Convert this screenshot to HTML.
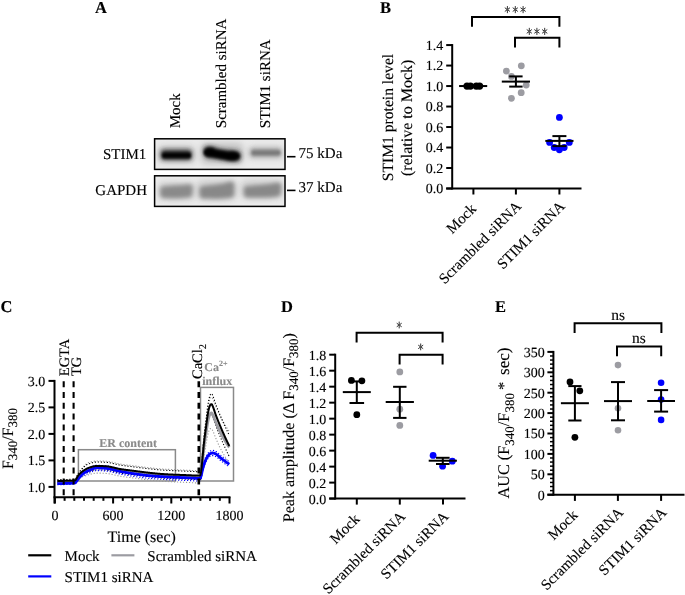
<!DOCTYPE html>
<html><head><meta charset="utf-8"><style>
html,body{margin:0;padding:0;background:#fff;overflow:hidden;}
svg{display:block;}
text{font-family:"Liberation Serif", serif; text-rendering:geometricPrecision; stroke:#000; stroke-width:0.12px;}
</style></head><body>
<svg style="will-change:transform" width="685" height="595" viewBox="0 0 685 595">
<rect width="685" height="595" fill="#fff"/>
<text x="95" y="12.5" font-size="16.5" text-anchor="start" font-weight="bold" fill="#000" font-family='"Liberation Serif", serif' >A</text>
<text x="180.2" y="128.2" font-size="15" text-anchor="start" fill="#000" font-family='"Liberation Serif", serif' transform="rotate(-90 180.2 128.2)" >Mock</text>
<text x="225.7" y="128.2" font-size="15" text-anchor="start" fill="#000" font-family='"Liberation Serif", serif' transform="rotate(-90 225.7 128.2)" >Scrambled siRNA</text>
<text x="269.7" y="128.2" font-size="15" text-anchor="start" fill="#000" font-family='"Liberation Serif", serif' transform="rotate(-90 269.7 128.2)" >STIM1 siRNA</text>
<text x="146.3" y="159.0" font-size="15" text-anchor="end" fill="#000" font-family='"Liberation Serif", serif' >STIM1</text>
<text x="147.0" y="195.2" font-size="15" text-anchor="end" fill="#000" font-family='"Liberation Serif", serif' >GAPDH</text>
<text x="298.6" y="158.2" font-size="15" text-anchor="start" fill="#000" font-family='"Liberation Serif", serif' >75 kDa</text>
<text x="298.6" y="192.2" font-size="15" text-anchor="start" fill="#000" font-family='"Liberation Serif", serif' >37 kDa</text>
<line x1="287" y1="156.7" x2="295.5" y2="156.7" stroke="#000" stroke-width="1.6" />
<line x1="287" y1="190.4" x2="295.5" y2="190.4" stroke="#000" stroke-width="1.6" />
<defs><filter id="bl1" x="-30%" y="-100%" width="160%" height="300%"><feGaussianBlur stdDeviation="2.2 2.2"/></filter><filter id="bl2" x="-30%" y="-100%" width="160%" height="300%"><feGaussianBlur stdDeviation="1.9 1.9"/></filter><filter id="bl4" x="-30%" y="-100%" width="160%" height="300%"><feGaussianBlur stdDeviation="1.3 1.6"/></filter><filter id="bl3" x="-30%" y="-100%" width="160%" height="300%"><feGaussianBlur stdDeviation="3 3"/></filter><clipPath id="c1"><rect x="154.7" y="138.9" width="130.1" height="30.2"/></clipPath><clipPath id="c2"><rect x="154.7" y="175.9" width="130.1" height="30.2"/></clipPath></defs>
<g clip-path="url(#c1)">
<rect x="154" y="138" width="132" height="32" fill="#ebebeb"/>
<g filter="url(#bl3)" opacity="0.4"><rect x="158" y="146" width="37" height="17" rx="5" fill="#888"/><rect x="201" y="143" width="42" height="21" rx="5" fill="#888"/><rect x="248" y="146" width="36" height="13" rx="4" fill="#aaa"/></g>
<g filter="url(#bl2)" opacity="0.9"><rect x="160.5" y="149.5" width="31.5" height="10.5" rx="4" fill="#333"/><path d="M203.5 150 C 203.5 145, 212 145.5, 218 148.5 C 225 150.5, 234 149.5, 239 151.5 C 242 153.5, 242 161, 237 161.5 C 230 162, 222 160, 214 158.5 C 207 157.5, 203.5 158.5, 203.5 150 Z" fill="#222"/><rect x="250" y="148.5" width="31" height="8.5" rx="3.5" fill="#999"/></g>
<g filter="url(#bl4)"><rect x="162" y="152.6" width="29" height="5.6" rx="2.5" fill="#000"/><ellipse cx="210" cy="152.4" rx="6.5" ry="4.6" fill="#000"/><ellipse cx="232" cy="156" rx="7.8" ry="4.6" fill="#000"/><path d="M209 148.8 L 228 151.8 L 230 160.2 L 210 156.8 Z" fill="#050505"/><rect x="251.5" y="150.4" width="29" height="4.6" rx="2" fill="#777"/></g>
</g>
<rect x="154.6" y="138.8" width="130.4" height="30.6" fill="none" stroke="#000" stroke-width="1.5"/>
<g clip-path="url(#c2)">
<rect x="154" y="175" width="132" height="32" fill="#ececec"/>
<g filter="url(#bl3)" opacity="0.35"><rect x="158" y="182" width="37" height="18" rx="5" fill="#999"/><rect x="197" y="180" width="40" height="20" rx="5" fill="#999"/><rect x="241" y="180" width="42" height="19" rx="5" fill="#999"/></g>
<g filter="url(#bl2)"><path d="M160.5 188 C 160.5 185.5, 175 186, 188 184.5 C 192.5 184, 193 186, 192.5 190 L 192 195.5 C 191.5 198, 180 198.5, 165 198 C 161 198, 160 196, 160.3 192 Z" fill="#8a8a8a"/><path d="M199.8 187.5 C 200.5 185.5, 218 185.5, 229 182 C 234 181, 234.5 183.5, 234.2 188 L 234 195.5 C 233.5 198.5, 220 199, 204 198.5 C 200 198.5, 199.5 196.5, 199.6 192 Z" fill="#888"/><path d="M244 187.5 C 244.5 185.5, 262 185.5, 276 183 C 281 182, 281.5 184.5, 281.2 188.5 L 280.7 194.5 C 280 197.5, 266 197.8, 248 197.5 C 244.2 197.5, 243.6 195.5, 243.8 191.5 Z" fill="#888"/></g>
</g>
<rect x="154.6" y="175.8" width="130.4" height="30.6" fill="none" stroke="#000" stroke-width="1.5"/>
<text x="380" y="12.5" font-size="16.5" text-anchor="start" font-weight="bold" fill="#000" font-family='"Liberation Serif", serif' >B</text>
<line x1="452.2" y1="44.06999999999999" x2="452.2" y2="189.5" stroke="#000" stroke-width="2.0" />
<line x1="446.2" y1="188.5" x2="581.5" y2="188.5" stroke="#000" stroke-width="2.0" />
<line x1="446.2" y1="188.5" x2="452.2" y2="188.5" stroke="#000" stroke-width="2.0" />
<text x="443.3" y="193.4" font-size="14" text-anchor="end" fill="#000" font-family='"Liberation Serif", serif' >0.0</text>
<line x1="446.2" y1="168.01" x2="452.2" y2="168.01" stroke="#000" stroke-width="2.0" />
<text x="443.3" y="172.91" font-size="14" text-anchor="end" fill="#000" font-family='"Liberation Serif", serif' >0.2</text>
<line x1="446.2" y1="147.52" x2="452.2" y2="147.52" stroke="#000" stroke-width="2.0" />
<text x="443.3" y="152.42" font-size="14" text-anchor="end" fill="#000" font-family='"Liberation Serif", serif' >0.4</text>
<line x1="446.2" y1="127.03" x2="452.2" y2="127.03" stroke="#000" stroke-width="2.0" />
<text x="443.3" y="131.93" font-size="14" text-anchor="end" fill="#000" font-family='"Liberation Serif", serif' >0.6</text>
<line x1="446.2" y1="106.54" x2="452.2" y2="106.54" stroke="#000" stroke-width="2.0" />
<text x="443.3" y="111.44" font-size="14" text-anchor="end" fill="#000" font-family='"Liberation Serif", serif' >0.8</text>
<line x1="446.2" y1="86.05" x2="452.2" y2="86.05" stroke="#000" stroke-width="2.0" />
<text x="443.3" y="90.95" font-size="14" text-anchor="end" fill="#000" font-family='"Liberation Serif", serif' >1.0</text>
<line x1="446.2" y1="65.56" x2="452.2" y2="65.56" stroke="#000" stroke-width="2.0" />
<text x="443.3" y="70.46" font-size="14" text-anchor="end" fill="#000" font-family='"Liberation Serif", serif' >1.2</text>
<line x1="446.2" y1="45.07" x2="452.2" y2="45.07" stroke="#000" stroke-width="2.0" />
<text x="443.3" y="49.97" font-size="14" text-anchor="end" fill="#000" font-family='"Liberation Serif", serif' >1.4</text>
<line x1="473.4" y1="188.5" x2="473.4" y2="194.5" stroke="#000" stroke-width="2.0" />
<line x1="515.9" y1="188.5" x2="515.9" y2="194.5" stroke="#000" stroke-width="2.0" />
<line x1="559.4" y1="188.5" x2="559.4" y2="194.5" stroke="#000" stroke-width="2.0" />
<text x="477.1" y="209.8" font-size="15" text-anchor="end" fill="#000" font-family='"Liberation Serif", serif' transform="rotate(-45 477.1 209.8)" >Mock</text>
<text x="522.2" y="207.2" font-size="15" text-anchor="end" fill="#000" font-family='"Liberation Serif", serif' transform="rotate(-45 522.2 207.2)" >Scrambled siRNA</text>
<text x="565.7" y="207.2" font-size="15" text-anchor="end" fill="#000" font-family='"Liberation Serif", serif' transform="rotate(-45 565.7 207.2)" >STIM1 siRNA</text>
<text x="393.3" y="117.5" font-size="15.6" text-anchor="middle" fill="#000" font-family='"Liberation Serif", serif' transform="rotate(-90 393.3 117.5)" >STIM1 protein level</text>
<text x="412.2" y="117.8" font-size="16" text-anchor="middle" fill="#000" font-family='"Liberation Serif", serif' transform="rotate(-90 412.2 117.8)" >(relative to Mock)</text>
<circle cx="467.0" cy="86.05" r="3.6" fill="#000"/>
<circle cx="470.4" cy="86.05" r="3.6" fill="#000"/>
<circle cx="476.3" cy="86.05" r="3.6" fill="#000"/>
<circle cx="479.6" cy="86.05" r="3.6" fill="#000"/>
<line x1="459.1" y1="86.05" x2="487.2" y2="86.05" stroke="#000" stroke-width="2.0" />
<circle cx="506.4" cy="71.1" r="3.4" fill="#9c9ca2"/>
<circle cx="521.3" cy="65.8" r="3.4" fill="#9c9ca2"/>
<circle cx="511.4" cy="76.4" r="3.4" fill="#9c9ca2"/>
<circle cx="526.2" cy="85.1" r="3.4" fill="#9c9ca2"/>
<circle cx="521.2" cy="92.7" r="3.4" fill="#9c9ca2"/>
<circle cx="511.4" cy="98.3" r="3.4" fill="#9c9ca2"/>
<line x1="501.79999999999995" y1="81.6" x2="530.0" y2="81.6" stroke="#000" stroke-width="2.0" />
<line x1="515.9" y1="76.4" x2="515.9" y2="86.6" stroke="#000" stroke-width="2.0" />
<line x1="509.2" y1="76.4" x2="522.6" y2="76.4" stroke="#000" stroke-width="2.0" />
<line x1="509.2" y1="86.6" x2="522.6" y2="86.6" stroke="#000" stroke-width="2.0" />
<circle cx="559.4" cy="117.4" r="3.4" fill="#0000ff"/>
<circle cx="549.6" cy="142.4" r="3.4" fill="#0000ff"/>
<circle cx="569.3" cy="142.4" r="3.4" fill="#0000ff"/>
<circle cx="554.2" cy="147.5" r="3.4" fill="#0000ff"/>
<circle cx="564.2" cy="147.5" r="3.4" fill="#0000ff"/>
<circle cx="559.4" cy="149.8" r="3.4" fill="#0000ff"/>
<line x1="545.3" y1="140.9" x2="573.5" y2="140.9" stroke="#000" stroke-width="2.0" />
<line x1="559.4" y1="136.1" x2="559.4" y2="146.1" stroke="#000" stroke-width="2.0" />
<line x1="552.4" y1="136.1" x2="566.4" y2="136.1" stroke="#000" stroke-width="2.0" />
<line x1="552.4" y1="146.1" x2="566.4" y2="146.1" stroke="#000" stroke-width="2.0" />
<path d="M472.0 26.8 V17.0 H559.4 V26.8" fill="none" stroke="#000" stroke-width="2.0" stroke-linejoin="miter"/>
<path d="M515.0 47.5 V37.7 H559.4 V47.5" fill="none" stroke="#000" stroke-width="2.0" stroke-linejoin="miter"/>
<path d="M507.4 6.45V12.75M505.13 7.96L509.67 11.24M505.13 11.24L509.67 7.96" stroke="#333" stroke-width="1.0" stroke-linecap="round" fill="none"/>
<circle cx="507.4" cy="9.6" r="1.1" fill="#555"/>
<path d="M515.3 6.45V12.75M513.03 7.96L517.57 11.24M513.03 11.24L517.57 7.96" stroke="#333" stroke-width="1.0" stroke-linecap="round" fill="none"/>
<circle cx="515.3" cy="9.6" r="1.1" fill="#555"/>
<path d="M523.1 6.45V12.75M520.83 7.96L525.37 11.24M520.83 11.24L525.37 7.96" stroke="#333" stroke-width="1.0" stroke-linecap="round" fill="none"/>
<circle cx="523.1" cy="9.6" r="1.1" fill="#555"/>
<path d="M529.3 28.25V34.55M527.03 29.76L531.57 33.04M527.03 33.04L531.57 29.76" stroke="#333" stroke-width="1.0" stroke-linecap="round" fill="none"/>
<circle cx="529.3" cy="31.4" r="1.1" fill="#555"/>
<path d="M536.9 28.25V34.55M534.63 29.76L539.17 33.04M534.63 33.04L539.17 29.76" stroke="#333" stroke-width="1.0" stroke-linecap="round" fill="none"/>
<circle cx="536.9" cy="31.4" r="1.1" fill="#555"/>
<path d="M544.7 28.25V34.55M542.43 29.76L546.97 33.04M542.43 33.04L546.97 29.76" stroke="#333" stroke-width="1.0" stroke-linecap="round" fill="none"/>
<circle cx="544.7" cy="31.4" r="1.1" fill="#555"/>
<text x="0.5" y="312.2" font-size="16.5" text-anchor="start" font-weight="bold" fill="#000" font-family='"Liberation Serif", serif' >C</text>
<line x1="54.5" y1="379.9" x2="54.5" y2="503.5" stroke="#000" stroke-width="2.0" />
<line x1="53.5" y1="497.2" x2="230.5" y2="497.2" stroke="#000" stroke-width="2.0" />
<line x1="48.5" y1="486.9" x2="54.5" y2="486.9" stroke="#000" stroke-width="2.0" />
<text x="45.3" y="491.8" font-size="14" text-anchor="end" fill="#000" font-family='"Liberation Serif", serif' >1.0</text>
<line x1="48.5" y1="460.4" x2="54.5" y2="460.4" stroke="#000" stroke-width="2.0" />
<text x="45.3" y="465.3" font-size="14" text-anchor="end" fill="#000" font-family='"Liberation Serif", serif' >1.5</text>
<line x1="48.5" y1="433.9" x2="54.5" y2="433.9" stroke="#000" stroke-width="2.0" />
<text x="45.3" y="438.8" font-size="14" text-anchor="end" fill="#000" font-family='"Liberation Serif", serif' >2.0</text>
<line x1="48.5" y1="407.4" x2="54.5" y2="407.4" stroke="#000" stroke-width="2.0" />
<text x="45.3" y="412.3" font-size="14" text-anchor="end" fill="#000" font-family='"Liberation Serif", serif' >2.5</text>
<line x1="48.5" y1="380.9" x2="54.5" y2="380.9" stroke="#000" stroke-width="2.0" />
<text x="45.3" y="385.8" font-size="14" text-anchor="end" fill="#000" font-family='"Liberation Serif", serif' >3.0</text>
<line x1="54.9" y1="497.2" x2="54.9" y2="503.5" stroke="#000" stroke-width="2.0" />
<line x1="64.6" y1="497.2" x2="64.6" y2="500.8" stroke="#000" stroke-width="2.0" />
<line x1="74.3" y1="497.2" x2="74.3" y2="500.8" stroke="#000" stroke-width="2.0" />
<line x1="84.0" y1="497.2" x2="84.0" y2="500.8" stroke="#000" stroke-width="2.0" />
<line x1="93.7" y1="497.2" x2="93.7" y2="500.8" stroke="#000" stroke-width="2.0" />
<line x1="103.4" y1="497.2" x2="103.4" y2="500.8" stroke="#000" stroke-width="2.0" />
<line x1="113.1" y1="497.2" x2="113.1" y2="503.5" stroke="#000" stroke-width="2.0" />
<line x1="122.8" y1="497.2" x2="122.8" y2="500.8" stroke="#000" stroke-width="2.0" />
<line x1="132.5" y1="497.2" x2="132.5" y2="500.8" stroke="#000" stroke-width="2.0" />
<line x1="142.2" y1="497.2" x2="142.2" y2="500.8" stroke="#000" stroke-width="2.0" />
<line x1="151.9" y1="497.2" x2="151.9" y2="500.8" stroke="#000" stroke-width="2.0" />
<line x1="161.6" y1="497.2" x2="161.6" y2="500.8" stroke="#000" stroke-width="2.0" />
<line x1="171.3" y1="497.2" x2="171.3" y2="503.5" stroke="#000" stroke-width="2.0" />
<line x1="181.0" y1="497.2" x2="181.0" y2="500.8" stroke="#000" stroke-width="2.0" />
<line x1="190.7" y1="497.2" x2="190.7" y2="500.8" stroke="#000" stroke-width="2.0" />
<line x1="200.4" y1="497.2" x2="200.4" y2="500.8" stroke="#000" stroke-width="2.0" />
<line x1="210.1" y1="497.2" x2="210.1" y2="500.8" stroke="#000" stroke-width="2.0" />
<line x1="219.8" y1="497.2" x2="219.8" y2="500.8" stroke="#000" stroke-width="2.0" />
<line x1="229.5" y1="497.2" x2="229.5" y2="503.5" stroke="#000" stroke-width="2.0" />
<text x="54.9" y="519.8" font-size="14" text-anchor="middle" fill="#000" font-family='"Liberation Serif", serif' >0</text>
<text x="113.1" y="519.8" font-size="14" text-anchor="middle" fill="#000" font-family='"Liberation Serif", serif' >600</text>
<text x="171.3" y="519.8" font-size="14" text-anchor="middle" fill="#000" font-family='"Liberation Serif", serif' >1200</text>
<text x="229.5" y="519.8" font-size="14" text-anchor="middle" fill="#000" font-family='"Liberation Serif", serif' >1800</text>
<text x="141.7" y="541.7" font-size="16" text-anchor="middle" fill="#000" font-family='"Liberation Serif", serif' >Time (sec)</text>
<text transform="translate(12.8 469) rotate(-90)" font-size="15.8" font-family='"Liberation Serif", serif'>F<tspan font-size="13" dy="4.5">340</tspan><tspan dy="-4.5">/F</tspan><tspan font-size="13" dy="4.5">380</tspan></text>
<text x="68.6" y="376.2" font-size="14.5" text-anchor="start" fill="#000" font-family='"Liberation Serif", serif' transform="rotate(-90 68.6 376.2)" >EGTA</text>
<text x="81.4" y="376.0" font-size="14.5" text-anchor="start" fill="#000" font-family='"Liberation Serif", serif' transform="rotate(-90 81.4 376.0)" >TG</text>
<text transform="translate(201.8 379) rotate(-90)" font-size="14.5" font-family='"Liberation Serif", serif'>CaCl<tspan font-size="10.5" dy="4">2</tspan></text>
<rect x="78.4" y="449.7" width="97" height="31.3" fill="none" stroke="#8a8a8a" stroke-width="1.5"/>
<rect x="200.5" y="387.4" width="33" height="93.6" fill="none" stroke="#8a8a8a" stroke-width="1.5"/>
<text x="128.2" y="447.0" font-size="12" text-anchor="middle" font-weight="bold" fill="#8a8a8a" style="stroke:#8a8a8a" font-family='"Liberation Serif", serif' >ER content</text>
<text x="204.3" y="370.5" font-size="12" font-weight="bold" fill="#8a8a8a" style="stroke:#8a8a8a" font-family='"Liberation Serif", serif'>Ca<tspan font-size="8" dy="-4.5">2+</tspan></text>
<text x="217.3" y="384.6" font-size="12" text-anchor="middle" font-weight="bold" fill="#8a8a8a" style="stroke:#8a8a8a" font-family='"Liberation Serif", serif' >influx</text>
<polyline points="57.32,480.01 57.62,480.00 57.91,479.99 58.20,479.98 58.49,479.97 58.78,479.96 59.07,479.95 59.36,479.94 59.65,479.93 59.94,479.92 60.23,479.91 60.53,479.90 60.82,479.89 61.11,479.88 61.40,479.88 61.69,479.87 61.98,479.86 62.27,479.85 62.56,479.84 62.85,479.83 63.14,479.82 63.44,479.81 63.73,479.80 64.02,479.79 64.31,479.78 64.60,479.77 64.89,479.77 65.18,479.76 65.47,479.75 65.76,479.74 66.06,479.73 66.35,479.72 66.64,479.72 66.93,479.71 67.22,479.70 67.51,479.70 67.80,479.69 68.09,479.69 68.38,479.68 68.67,479.68 68.97,479.67 69.26,479.67 69.55,479.66 69.84,479.66 70.13,479.65 70.42,479.65 70.71,479.64 71.00,479.64 71.29,479.63 71.58,479.62 71.88,479.61 72.17,479.60 72.46,479.59 72.75,479.58 73.04,479.57 73.33,479.56 73.62,479.55 73.91,479.53 74.20,479.52 74.49,479.50 74.78,479.48 75.08,479.40 75.37,479.18 75.66,478.79 75.95,478.33 76.24,477.81 76.53,477.24 76.82,476.65 77.11,476.04 77.40,475.43 77.69,474.84 77.99,474.28 78.28,473.78 78.57,473.33 78.86,472.89 79.15,472.47 79.44,472.04 79.73,471.62 80.02,471.20 80.31,470.78 80.61,470.37 80.90,469.97 81.19,469.57 81.48,469.18 81.77,468.80 82.06,468.42 82.35,468.05 82.64,467.70 82.93,467.35 83.22,467.01 83.52,466.69 83.81,466.37 84.10,466.06 84.39,465.76 84.68,465.46 84.97,465.16 85.26,464.87 85.55,464.58 85.84,464.29 86.13,464.02 86.42,463.74 86.72,463.48 87.01,463.26 87.30,463.12 87.59,462.99 87.88,462.86 88.17,462.75 88.46,462.64 88.75,462.55 89.04,462.46 89.34,462.38 89.63,462.29 89.92,462.20 90.21,462.12 90.50,462.04 90.79,461.96 91.08,461.87 91.37,461.80 91.66,461.72 91.95,461.64 92.25,461.57 92.54,461.50 92.83,461.44 93.12,461.37 93.41,461.31 93.70,461.26 93.99,461.20 94.28,461.15 94.57,461.11 94.86,461.07 95.16,461.03 95.45,461.00 95.74,460.98 96.03,460.96 96.32,460.94 96.61,460.93 96.90,460.93 97.19,460.93 97.48,460.93 97.77,460.93 98.06,460.94 98.36,460.94 98.65,460.94 98.94,460.95 99.23,460.95 99.52,460.96 99.81,460.97 100.10,460.97 100.39,460.98 100.68,460.99 100.97,461.00 101.27,461.01 101.56,461.02 101.85,461.03 102.14,461.04 102.43,461.05 102.72,461.06 103.01,461.07 103.30,461.09 103.59,461.10 103.88,461.11 104.18,461.13 104.47,461.14 104.76,461.15 105.05,461.17 105.34,461.18 105.63,461.19 105.92,461.21 106.21,461.23 106.50,461.25 106.80,461.28 107.09,461.31 107.38,461.34 107.67,461.38 107.96,461.42 108.25,461.46 108.54,461.50 108.83,461.55 109.12,461.60 109.41,461.65 109.70,461.70 110.00,461.76 110.29,461.82 110.58,461.87 110.87,461.94 111.16,462.00 111.45,462.06 111.74,462.13 112.03,462.19 112.32,462.26 112.62,462.33 112.91,462.40 113.20,462.47 113.49,462.54 113.78,462.61 114.07,462.68 114.36,462.75 114.65,462.82 114.94,462.89 115.23,462.96 115.53,463.03 115.82,463.10 116.11,463.17 116.40,463.24 116.69,463.31 116.98,463.38 117.27,463.45 117.56,463.51 117.85,463.58 118.14,463.64 118.44,463.70 118.73,463.76 119.02,463.82 119.31,463.87 119.60,463.93 119.89,463.98 120.18,464.03 120.47,464.08 120.76,464.12 121.05,464.17 121.34,464.21 121.64,464.26 121.93,464.30 122.22,464.34 122.51,464.38 122.80,464.43 123.09,464.47 123.38,464.51 123.67,464.55 123.96,464.59 124.25,464.63 124.55,464.67 124.84,464.70 125.13,464.74 125.42,464.78 125.71,464.82 126.00,464.86 126.29,464.89 126.58,464.93 126.87,464.97 127.16,465.00 127.46,465.04 127.75,465.08 128.04,465.11 128.33,465.15 128.62,465.18 128.91,465.22 129.20,465.25 129.49,465.29 129.78,465.32 130.07,465.36 130.37,465.39 130.66,465.43 130.95,465.47 131.24,465.50 131.53,465.54 131.82,465.57 132.11,465.61 132.40,465.64 132.69,465.68 132.99,465.71 133.28,465.75 133.57,465.78 133.86,465.82 134.15,465.86 134.44,465.89 134.73,465.93 135.02,465.96 135.31,466.00 135.60,466.04 135.90,466.08 136.19,466.11 136.48,466.15 136.77,466.19 137.06,466.23 137.35,466.26 137.64,466.30 137.93,466.34 138.22,466.38 138.51,466.42 138.81,466.45 139.10,466.49 139.39,466.53 139.68,466.57 139.97,466.61 140.26,466.64 140.55,466.68 140.84,466.72 141.13,466.76 141.42,466.80 141.72,466.83 142.01,466.87 142.30,466.91 142.59,466.95 142.88,466.98 143.17,467.02 143.46,467.06 143.75,467.09 144.04,467.13 144.33,467.17 144.62,467.20 144.92,467.24 145.21,467.27 145.50,467.31 145.79,467.35 146.08,467.38 146.37,467.42 146.66,467.45 146.95,467.48 147.24,467.52 147.53,467.55 147.83,467.59 148.12,467.62 148.41,467.65 148.70,467.68 148.99,467.72 149.28,467.75 149.57,467.78 149.86,467.81 150.15,467.84 150.44,467.87 150.74,467.90 151.03,467.93 151.32,467.96 151.61,467.99 151.90,468.02 152.19,468.05 152.48,468.08 152.77,468.11 153.06,468.14 153.35,468.17 153.65,468.20 153.94,468.23 154.23,468.26 154.52,468.29 154.81,468.32 155.10,468.35 155.39,468.38 155.68,468.41 155.97,468.44 156.27,468.46 156.56,468.49 156.85,468.52 157.14,468.55 157.43,468.57 157.72,468.60 158.01,468.63 158.30,468.66 158.59,468.68 158.88,468.71 159.18,468.73 159.47,468.76 159.76,468.78 160.05,468.81 160.34,468.83 160.63,468.86 160.92,468.88 161.21,468.91 161.50,468.93 161.79,468.95 162.09,468.97 162.38,469.00 162.67,469.02 162.96,469.04 163.25,469.06 163.54,469.08 163.83,469.10 164.12,469.12 164.41,469.14 164.70,469.16 165.00,469.18 165.29,469.19 165.58,469.21 165.87,469.23 166.16,469.25 166.45,469.27 166.74,469.28 167.03,469.30 167.32,469.32 167.61,469.33 167.91,469.35 168.20,469.37 168.49,469.38 168.78,469.40 169.07,469.41 169.36,469.43 169.65,469.44 169.94,469.46 170.23,469.47 170.52,469.49 170.81,469.50 171.11,469.52 171.40,469.53 171.69,469.55 171.98,469.56 172.27,469.58 172.56,469.59 172.85,469.60 173.14,469.62 173.43,469.63 173.72,469.65 174.02,469.66 174.31,469.67 174.60,469.69 174.89,469.70 175.18,469.71 175.47,469.73 175.76,469.74 176.05,469.75 176.34,469.76 176.63,469.78 176.93,469.79 177.22,469.80 177.51,469.82 177.80,469.83 178.09,469.84 178.38,469.85 178.67,469.87 178.96,469.88 179.25,469.89 179.55,469.90 179.84,469.92 180.13,469.93 180.42,469.94 180.71,469.95 181.00,469.97 181.29,469.98 181.58,469.99 181.87,470.00 182.16,470.02 182.46,470.03 182.75,470.04 183.04,470.05 183.33,470.07 183.62,470.08 183.91,470.09 184.20,470.10 184.49,470.12 184.78,470.13 185.07,470.14 185.37,470.16 185.66,470.17 185.95,470.18 186.24,470.20 186.53,470.21 186.82,470.22 187.11,470.24 187.40,470.25 187.69,470.27 187.98,470.28 188.28,470.30 188.57,470.32 188.86,470.33 189.15,470.35 189.44,470.37 189.73,470.38 190.02,470.40 190.31,470.42 190.60,470.43 190.89,470.45 191.19,470.47 191.48,470.48 191.77,470.50 192.06,470.52 192.35,470.53 192.64,470.55 192.93,470.57 193.22,470.58 193.51,470.59 193.80,470.61 194.09,470.62 194.39,470.64 194.68,470.65 194.97,470.66 195.26,470.67 195.55,470.68 195.84,470.69 196.13,470.70 196.42,470.71 196.71,470.71 197.01,470.72 197.30,470.73 197.59,470.73 197.88,470.73 198.17,470.73 198.46,470.73 198.75,470.72 199.04,470.69 199.33,470.64 199.62,470.57 199.92,470.50 200.21,470.11 200.50,469.12 200.79,467.64 201.08,465.73 201.37,463.46 201.66,460.88 201.95,458.07 202.24,455.08 202.53,451.99 202.83,448.85 203.12,445.72 203.41,442.67 203.70,439.77 203.99,437.08 204.28,434.65 204.57,432.41 204.86,430.21 205.15,428.04 205.44,425.91 205.74,423.79 206.03,421.70 206.32,419.61 206.61,417.49 206.90,415.34 207.19,413.20 207.48,411.14 207.77,409.22 208.06,407.48 208.35,405.87 208.65,404.34 208.94,402.93 209.23,401.69 209.52,400.66 209.81,399.71 210.10,398.85 210.39,398.17 210.68,397.71 210.97,397.34 211.26,397.09 211.56,397.06 211.85,397.22 212.14,397.63 212.43,398.20 212.72,398.84 213.01,399.45 213.30,400.06 213.59,400.73 213.88,401.46 214.17,402.23 214.47,403.01 214.76,403.81 215.05,404.58 215.34,405.33 215.63,406.04 215.92,406.74 216.21,407.43 216.50,408.12 216.79,408.80 217.08,409.48 217.38,410.16 217.67,410.82 217.96,411.48 218.25,412.13 218.54,412.77 218.83,413.40 219.12,414.01 219.41,414.62 219.70,415.21 219.99,415.80 220.28,416.38 220.58,416.94 220.87,417.50 221.16,418.06 221.45,418.60 221.74,419.14 222.03,419.67 222.32,420.19 222.61,420.71 222.90,421.23 223.20,421.74 223.49,422.24 223.78,422.74 224.07,423.24 224.36,423.73 224.65,424.22 224.94,424.71 225.23,425.19 225.52,425.67 225.81,426.15 226.11,426.62 226.40,427.09 226.69,427.55 226.98,428.01 227.27,428.46 227.56,428.91 227.85,429.36 228.14,429.80 228.43,430.23 228.72,430.66 229.02,431.08 229.31,431.50" fill="none" stroke="#999" stroke-width="1.1" stroke-linejoin="round" stroke-dasharray="1.2 1.8"/>
<polyline points="57.32,483.19 57.62,483.18 57.91,483.17 58.20,483.16 58.49,483.15 58.78,483.14 59.07,483.13 59.36,483.12 59.65,483.11 59.94,483.10 60.23,483.09 60.53,483.08 60.82,483.07 61.11,483.06 61.40,483.06 61.69,483.05 61.98,483.04 62.27,483.03 62.56,483.02 62.85,483.01 63.14,483.00 63.44,482.99 63.73,482.98 64.02,482.97 64.31,482.96 64.60,482.95 64.89,482.95 65.18,482.94 65.47,482.93 65.76,482.92 66.06,482.91 66.35,482.90 66.64,482.90 66.93,482.89 67.22,482.88 67.51,482.88 67.80,482.87 68.09,482.87 68.38,482.86 68.67,482.86 68.97,482.85 69.26,482.85 69.55,482.84 69.84,482.84 70.13,482.83 70.42,482.83 70.71,482.82 71.00,482.82 71.29,482.81 71.58,482.80 71.88,482.79 72.17,482.78 72.46,482.77 72.75,482.76 73.04,482.75 73.33,482.74 73.62,482.73 73.91,482.71 74.20,482.70 74.49,482.68 74.78,482.66 75.08,482.58 75.37,482.44 75.66,482.27 75.95,482.04 76.24,481.74 76.53,481.40 76.82,481.03 77.11,480.64 77.40,480.26 77.69,479.90 77.99,479.57 78.28,479.28 78.57,479.06 78.86,478.85 79.15,478.65 79.44,478.45 79.73,478.25 80.02,478.05 80.31,477.87 80.61,477.68 80.90,477.50 81.19,477.33 81.48,477.16 81.77,477.01 82.06,476.86 82.35,476.71 82.64,476.58 82.93,476.46 83.22,476.35 83.52,476.25 83.81,476.16 84.10,476.08 84.39,476.00 84.68,475.92 84.97,475.85 85.26,475.78 85.55,475.72 85.84,475.66 86.13,475.60 86.42,475.56 86.72,475.52 87.01,475.45 87.30,475.31 87.59,475.18 87.88,475.05 88.17,474.94 88.46,474.83 88.75,474.74 89.04,474.65 89.34,474.57 89.63,474.48 89.92,474.39 90.21,474.31 90.50,474.23 90.79,474.15 91.08,474.06 91.37,473.99 91.66,473.91 91.95,473.83 92.25,473.76 92.54,473.69 92.83,473.63 93.12,473.56 93.41,473.50 93.70,473.45 93.99,473.39 94.28,473.34 94.57,473.30 94.86,473.26 95.16,473.22 95.45,473.19 95.74,473.17 96.03,473.15 96.32,473.13 96.61,473.12 96.90,473.12 97.19,473.12 97.48,473.12 97.77,473.12 98.06,473.13 98.36,473.13 98.65,473.13 98.94,473.14 99.23,473.14 99.52,473.15 99.81,473.16 100.10,473.16 100.39,473.17 100.68,473.18 100.97,473.19 101.27,473.20 101.56,473.21 101.85,473.22 102.14,473.23 102.43,473.24 102.72,473.25 103.01,473.26 103.30,473.28 103.59,473.29 103.88,473.30 104.18,473.32 104.47,473.33 104.76,473.34 105.05,473.36 105.34,473.37 105.63,473.38 105.92,473.40 106.21,473.42 106.50,473.44 106.80,473.47 107.09,473.50 107.38,473.53 107.67,473.57 107.96,473.61 108.25,473.65 108.54,473.69 108.83,473.74 109.12,473.79 109.41,473.84 109.70,473.89 110.00,473.95 110.29,474.01 110.58,474.06 110.87,474.13 111.16,474.19 111.45,474.25 111.74,474.32 112.03,474.38 112.32,474.45 112.62,474.52 112.91,474.59 113.20,474.66 113.49,474.73 113.78,474.80 114.07,474.87 114.36,474.94 114.65,475.01 114.94,475.08 115.23,475.15 115.53,475.22 115.82,475.29 116.11,475.36 116.40,475.43 116.69,475.50 116.98,475.57 117.27,475.64 117.56,475.70 117.85,475.77 118.14,475.83 118.44,475.89 118.73,475.95 119.02,476.01 119.31,476.06 119.60,476.12 119.89,476.17 120.18,476.22 120.47,476.27 120.76,476.31 121.05,476.36 121.34,476.40 121.64,476.45 121.93,476.49 122.22,476.53 122.51,476.57 122.80,476.62 123.09,476.66 123.38,476.70 123.67,476.74 123.96,476.78 124.25,476.82 124.55,476.86 124.84,476.89 125.13,476.93 125.42,476.97 125.71,477.01 126.00,477.05 126.29,477.08 126.58,477.12 126.87,477.16 127.16,477.19 127.46,477.23 127.75,477.27 128.04,477.30 128.33,477.34 128.62,477.37 128.91,477.41 129.20,477.44 129.49,477.48 129.78,477.51 130.07,477.55 130.37,477.58 130.66,477.62 130.95,477.66 131.24,477.69 131.53,477.73 131.82,477.76 132.11,477.80 132.40,477.83 132.69,477.87 132.99,477.90 133.28,477.94 133.57,477.97 133.86,478.01 134.15,478.05 134.44,478.08 134.73,478.12 135.02,478.15 135.31,478.19 135.60,478.23 135.90,478.27 136.19,478.30 136.48,478.34 136.77,478.38 137.06,478.42 137.35,478.45 137.64,478.49 137.93,478.53 138.22,478.57 138.51,478.61 138.81,478.64 139.10,478.68 139.39,478.72 139.68,478.76 139.97,478.80 140.26,478.83 140.55,478.87 140.84,478.91 141.13,478.95 141.42,478.99 141.72,479.02 142.01,479.06 142.30,479.10 142.59,479.14 142.88,479.17 143.17,479.21 143.46,479.25 143.75,479.28 144.04,479.32 144.33,479.36 144.62,479.39 144.92,479.43 145.21,479.46 145.50,479.50 145.79,479.54 146.08,479.57 146.37,479.61 146.66,479.64 146.95,479.67 147.24,479.71 147.53,479.74 147.83,479.78 148.12,479.81 148.41,479.84 148.70,479.87 148.99,479.91 149.28,479.94 149.57,479.97 149.86,480.00 150.15,480.03 150.44,480.06 150.74,480.09 151.03,480.12 151.32,480.15 151.61,480.18 151.90,480.21 152.19,480.24 152.48,480.27 152.77,480.30 153.06,480.33 153.35,480.36 153.65,480.39 153.94,480.42 154.23,480.45 154.52,480.48 154.81,480.51 155.10,480.54 155.39,480.57 155.68,480.60 155.97,480.63 156.27,480.65 156.56,480.68 156.85,480.71 157.14,480.74 157.43,480.76 157.72,480.79 158.01,480.82 158.30,480.85 158.59,480.87 158.88,480.90 159.18,480.92 159.47,480.95 159.76,480.97 160.05,481.00 160.34,481.02 160.63,481.05 160.92,481.07 161.21,481.10 161.50,481.12 161.79,481.14 162.09,481.16 162.38,481.19 162.67,481.21 162.96,481.23 163.25,481.25 163.54,481.27 163.83,481.29 164.12,481.31 164.41,481.33 164.70,481.35 165.00,481.37 165.29,481.38 165.58,481.40 165.87,481.42 166.16,481.44 166.45,481.46 166.74,481.47 167.03,481.49 167.32,481.51 167.61,481.52 167.91,481.54 168.20,481.56 168.49,481.57 168.78,481.59 169.07,481.60 169.36,481.62 169.65,481.63 169.94,481.65 170.23,481.66 170.52,481.68 170.81,481.69 171.11,481.71 171.40,481.72 171.69,481.74 171.98,481.75 172.27,481.77 172.56,481.78 172.85,481.79 173.14,481.81 173.43,481.82 173.72,481.84 174.02,481.85 174.31,481.86 174.60,481.88 174.89,481.89 175.18,481.90 175.47,481.92 175.76,481.93 176.05,481.94 176.34,481.95 176.63,481.97 176.93,481.98 177.22,481.99 177.51,482.01 177.80,482.02 178.09,482.03 178.38,482.04 178.67,482.06 178.96,482.07 179.25,482.08 179.55,482.09 179.84,482.11 180.13,482.12 180.42,482.13 180.71,482.14 181.00,482.16 181.29,482.17 181.58,482.18 181.87,482.19 182.16,482.21 182.46,482.22 182.75,482.23 183.04,482.24 183.33,482.26 183.62,482.27 183.91,482.28 184.20,482.29 184.49,482.31 184.78,482.32 185.07,482.33 185.37,482.35 185.66,482.36 185.95,482.37 186.24,482.39 186.53,482.40 186.82,482.41 187.11,482.43 187.40,482.44 187.69,482.46 187.98,482.47 188.28,482.49 188.57,482.51 188.86,482.52 189.15,482.54 189.44,482.56 189.73,482.57 190.02,482.59 190.31,482.61 190.60,482.62 190.89,482.64 191.19,482.66 191.48,482.67 191.77,482.69 192.06,482.71 192.35,482.72 192.64,482.74 192.93,482.76 193.22,482.77 193.51,482.78 193.80,482.80 194.09,482.81 194.39,482.83 194.68,482.84 194.97,482.85 195.26,482.86 195.55,482.87 195.84,482.88 196.13,482.89 196.42,482.90 196.71,482.90 197.01,482.91 197.30,482.92 197.59,482.92 197.88,482.92 198.17,482.92 198.46,482.92 198.75,482.91 199.04,482.88 199.33,482.83 199.62,482.76 199.92,482.69 200.21,482.64 200.50,482.17 200.79,481.19 201.08,479.80 201.37,478.03 201.66,475.97 201.95,473.67 202.24,471.20 202.53,468.61 202.83,465.98 203.12,463.37 203.41,460.83 203.70,458.44 203.99,456.26 204.28,454.35 204.57,452.61 204.86,450.92 205.15,449.27 205.44,447.65 205.74,446.04 206.03,444.46 206.32,442.89 206.61,441.28 206.90,439.64 207.19,438.01 207.48,436.46 207.77,435.05 208.06,433.82 208.35,432.73 208.65,431.70 208.94,430.80 209.23,430.08 209.52,429.56 209.81,429.12 210.10,428.78 210.39,428.60 210.68,428.66 210.97,428.80 211.26,428.89 211.56,428.86 211.85,429.02 212.14,429.43 212.43,430.00 212.72,430.64 213.01,431.25 213.30,431.86 213.59,432.53 213.88,433.26 214.17,434.03 214.47,434.81 214.76,435.61 215.05,436.38 215.34,437.13 215.63,437.84 215.92,438.54 216.21,439.23 216.50,439.92 216.79,440.60 217.08,441.28 217.38,441.96 217.67,442.62 217.96,443.28 218.25,443.93 218.54,444.57 218.83,445.20 219.12,445.81 219.41,446.42 219.70,447.01 219.99,447.60 220.28,448.18 220.58,448.74 220.87,449.30 221.16,449.86 221.45,450.40 221.74,450.94 222.03,451.47 222.32,451.99 222.61,452.51 222.90,453.03 223.20,453.54 223.49,454.04 223.78,454.54 224.07,455.04 224.36,455.53 224.65,456.02 224.94,456.51 225.23,456.99 225.52,457.47 225.81,457.95 226.11,458.42 226.40,458.89 226.69,459.35 226.98,459.81 227.27,460.26 227.56,460.71 227.85,461.16 228.14,461.60 228.43,462.03 228.72,462.46 229.02,462.88 229.31,463.30" fill="none" stroke="#999" stroke-width="1.1" stroke-linejoin="round" stroke-dasharray="1.2 1.8"/>
<polyline points="57.32,479.75 57.62,479.74 57.91,479.73 58.20,479.72 58.49,479.71 58.78,479.70 59.07,479.69 59.36,479.68 59.65,479.67 59.94,479.66 60.23,479.65 60.53,479.64 60.82,479.63 61.11,479.62 61.40,479.61 61.69,479.60 61.98,479.59 62.27,479.58 62.56,479.57 62.85,479.56 63.14,479.56 63.44,479.55 63.73,479.54 64.02,479.53 64.31,479.52 64.60,479.51 64.89,479.50 65.18,479.49 65.47,479.48 65.76,479.47 66.06,479.47 66.35,479.46 66.64,479.45 66.93,479.45 67.22,479.44 67.51,479.43 67.80,479.43 68.09,479.42 68.38,479.42 68.67,479.41 68.97,479.41 69.26,479.40 69.55,479.40 69.84,479.39 70.13,479.39 70.42,479.38 70.71,479.38 71.00,479.37 71.29,479.36 71.58,479.36 71.88,479.35 72.17,479.34 72.46,479.33 72.75,479.32 73.04,479.31 73.33,479.29 73.62,479.28 73.91,479.27 74.20,479.25 74.49,479.23 74.78,479.21 75.08,479.13 75.37,478.90 75.66,478.52 75.95,478.05 76.24,477.52 76.53,476.94 76.82,476.33 77.11,475.71 77.40,475.09 77.69,474.50 77.99,473.95 78.28,473.47 78.57,473.06 78.86,472.67 79.15,472.29 79.44,471.92 79.73,471.55 80.02,471.20 80.31,470.84 80.61,470.50 80.90,470.16 81.19,469.83 81.48,469.51 81.77,469.20 82.06,468.89 82.35,468.59 82.64,468.30 82.93,468.01 83.22,467.73 83.52,467.46 83.81,467.20 84.10,466.94 84.39,466.69 84.68,466.44 84.97,466.19 85.26,465.95 85.55,465.71 85.84,465.47 86.13,465.24 86.42,465.02 86.72,464.80 87.01,464.61 87.30,464.47 87.59,464.34 87.88,464.21 88.17,464.09 88.46,463.98 88.75,463.88 89.04,463.78 89.34,463.68 89.63,463.59 89.92,463.49 90.21,463.39 90.50,463.30 90.79,463.20 91.08,463.11 91.37,463.02 91.66,462.93 91.95,462.84 92.25,462.76 92.54,462.68 92.83,462.60 93.12,462.52 93.41,462.45 93.70,462.38 93.99,462.32 94.28,462.26 94.57,462.21 94.86,462.16 95.16,462.12 95.45,462.08 95.74,462.05 96.03,462.02 96.32,462.00 96.61,461.99 96.90,461.99 97.19,461.99 97.48,461.99 97.77,461.99 98.06,462.00 98.36,462.00 98.65,462.00 98.94,462.01 99.23,462.01 99.52,462.02 99.81,462.03 100.10,462.03 100.39,462.04 100.68,462.05 100.97,462.06 101.27,462.07 101.56,462.08 101.85,462.09 102.14,462.10 102.43,462.11 102.72,462.12 103.01,462.13 103.30,462.15 103.59,462.16 103.88,462.17 104.18,462.19 104.47,462.20 104.76,462.21 105.05,462.23 105.34,462.24 105.63,462.25 105.92,462.27 106.21,462.29 106.50,462.31 106.80,462.34 107.09,462.37 107.38,462.40 107.67,462.44 107.96,462.48 108.25,462.52 108.54,462.56 108.83,462.61 109.12,462.66 109.41,462.71 109.70,462.76 110.00,462.82 110.29,462.88 110.58,462.93 110.87,463.00 111.16,463.06 111.45,463.12 111.74,463.19 112.03,463.25 112.32,463.32 112.62,463.39 112.91,463.46 113.20,463.53 113.49,463.60 113.78,463.67 114.07,463.74 114.36,463.81 114.65,463.88 114.94,463.95 115.23,464.02 115.53,464.09 115.82,464.16 116.11,464.23 116.40,464.30 116.69,464.37 116.98,464.44 117.27,464.51 117.56,464.57 117.85,464.64 118.14,464.70 118.44,464.76 118.73,464.82 119.02,464.88 119.31,464.93 119.60,464.99 119.89,465.04 120.18,465.09 120.47,465.14 120.76,465.18 121.05,465.23 121.34,465.27 121.64,465.32 121.93,465.36 122.22,465.40 122.51,465.44 122.80,465.49 123.09,465.53 123.38,465.57 123.67,465.61 123.96,465.65 124.25,465.69 124.55,465.73 124.84,465.76 125.13,465.80 125.42,465.84 125.71,465.88 126.00,465.92 126.29,465.95 126.58,465.99 126.87,466.03 127.16,466.06 127.46,466.10 127.75,466.14 128.04,466.17 128.33,466.21 128.62,466.24 128.91,466.28 129.20,466.31 129.49,466.35 129.78,466.38 130.07,466.42 130.37,466.45 130.66,466.49 130.95,466.53 131.24,466.56 131.53,466.60 131.82,466.63 132.11,466.67 132.40,466.70 132.69,466.74 132.99,466.77 133.28,466.81 133.57,466.84 133.86,466.88 134.15,466.92 134.44,466.95 134.73,466.99 135.02,467.02 135.31,467.06 135.60,467.10 135.90,467.14 136.19,467.17 136.48,467.21 136.77,467.25 137.06,467.29 137.35,467.32 137.64,467.36 137.93,467.40 138.22,467.44 138.51,467.48 138.81,467.51 139.10,467.55 139.39,467.59 139.68,467.63 139.97,467.67 140.26,467.70 140.55,467.74 140.84,467.78 141.13,467.82 141.42,467.86 141.72,467.89 142.01,467.93 142.30,467.97 142.59,468.01 142.88,468.04 143.17,468.08 143.46,468.12 143.75,468.15 144.04,468.19 144.33,468.23 144.62,468.26 144.92,468.30 145.21,468.33 145.50,468.37 145.79,468.41 146.08,468.44 146.37,468.48 146.66,468.51 146.95,468.54 147.24,468.58 147.53,468.61 147.83,468.65 148.12,468.68 148.41,468.71 148.70,468.74 148.99,468.78 149.28,468.81 149.57,468.84 149.86,468.87 150.15,468.90 150.44,468.93 150.74,468.96 151.03,468.99 151.32,469.02 151.61,469.05 151.90,469.08 152.19,469.11 152.48,469.14 152.77,469.18 153.06,469.21 153.35,469.24 153.65,469.27 153.94,469.30 154.23,469.33 154.52,469.36 154.81,469.38 155.10,469.41 155.39,469.44 155.68,469.47 155.97,469.50 156.27,469.53 156.56,469.56 156.85,469.59 157.14,469.61 157.43,469.64 157.72,469.67 158.01,469.70 158.30,469.72 158.59,469.75 158.88,469.78 159.18,469.80 159.47,469.83 159.76,469.85 160.05,469.88 160.34,469.90 160.63,469.93 160.92,469.95 161.21,469.97 161.50,470.00 161.79,470.02 162.09,470.04 162.38,470.06 162.67,470.08 162.96,470.10 163.25,470.12 163.54,470.14 163.83,470.16 164.12,470.18 164.41,470.20 164.70,470.22 165.00,470.23 165.29,470.25 165.58,470.27 165.87,470.28 166.16,470.30 166.45,470.32 166.74,470.33 167.03,470.35 167.32,470.36 167.61,470.38 167.91,470.39 168.20,470.41 168.49,470.42 168.78,470.44 169.07,470.45 169.36,470.47 169.65,470.48 169.94,470.50 170.23,470.51 170.52,470.52 170.81,470.54 171.11,470.55 171.40,470.56 171.69,470.58 171.98,470.59 172.27,470.60 172.56,470.61 172.85,470.63 173.14,470.64 173.43,470.65 173.72,470.66 174.02,470.68 174.31,470.69 174.60,470.70 174.89,470.71 175.18,470.72 175.47,470.73 175.76,470.75 176.05,470.76 176.34,470.77 176.63,470.78 176.93,470.79 177.22,470.80 177.51,470.81 177.80,470.82 178.09,470.84 178.38,470.85 178.67,470.86 178.96,470.87 179.25,470.88 179.55,470.89 179.84,470.90 180.13,470.91 180.42,470.92 180.71,470.94 181.00,470.95 181.29,470.96 181.58,470.97 181.87,470.98 182.16,470.99 182.46,471.00 182.75,471.01 183.04,471.02 183.33,471.04 183.62,471.05 183.91,471.06 184.20,471.07 184.49,471.08 184.78,471.09 185.07,471.10 185.37,471.12 185.66,471.13 185.95,471.14 186.24,471.15 186.53,471.16 186.82,471.18 187.11,471.19 187.40,471.20 187.69,471.22 187.98,471.23 188.28,471.24 188.57,471.26 188.86,471.27 189.15,471.29 189.44,471.30 189.73,471.32 190.02,471.33 190.31,471.35 190.60,471.36 190.89,471.38 191.19,471.40 191.48,471.41 191.77,471.43 192.06,471.44 192.35,471.45 192.64,471.47 192.93,471.48 193.22,471.50 193.51,471.51 193.80,471.52 194.09,471.53 194.39,471.55 194.68,471.56 194.97,471.57 195.26,471.58 195.55,471.59 195.84,471.60 196.13,471.60 196.42,471.61 196.71,471.62 197.01,471.62 197.30,471.63 197.59,471.63 197.88,471.63 198.17,471.64 198.46,471.64 198.75,471.63 199.04,471.62 199.33,471.60 199.62,471.57 199.92,471.54 200.21,471.25 200.50,470.32 200.79,468.84 201.08,466.89 201.37,464.53 201.66,461.83 201.95,458.86 202.24,455.69 202.53,452.39 202.83,449.03 203.12,445.68 203.41,442.41 203.70,439.28 203.99,436.37 204.28,433.75 204.57,431.31 204.86,428.89 205.15,426.50 205.44,424.13 205.74,421.78 206.03,419.46 206.32,417.17 206.61,414.84 206.90,412.47 207.19,410.12 207.48,407.87 207.77,405.79 208.06,403.94 208.35,402.27 208.65,400.69 208.94,399.26 209.23,398.01 209.52,396.98 209.81,396.02 210.10,395.17 210.39,394.51 210.68,394.13 210.97,393.84 211.26,393.65 211.56,393.62 211.85,393.79 212.14,394.25 212.43,394.88 212.72,395.58 213.01,396.27 213.30,396.96 213.59,397.75 213.88,398.60 214.17,399.50 214.47,400.43 214.76,401.36 215.05,402.27 215.34,403.14 215.63,403.95 215.92,404.74 216.21,405.51 216.50,406.28 216.79,407.03 217.08,407.78 217.38,408.51 217.67,409.24 217.96,409.97 218.25,410.68 218.54,411.40 218.83,412.11 219.12,412.82 219.41,413.52 219.70,414.23 219.99,414.93 220.28,415.63 220.58,416.33 220.87,417.02 221.16,417.70 221.45,418.38 221.74,419.06 222.03,419.74 222.32,420.41 222.61,421.07 222.90,421.73 223.20,422.38 223.49,423.03 223.78,423.68 224.07,424.33 224.36,424.97 224.65,425.60 224.94,426.24 225.23,426.87 225.52,427.50 225.81,428.13 226.11,428.75 226.40,429.37 226.69,429.99 226.98,430.60 227.27,431.21 227.56,431.82 227.85,432.42 228.14,433.02 228.43,433.61 228.72,434.20 229.02,434.79 229.31,435.37" fill="none" stroke="#000" stroke-width="1.1" stroke-linejoin="round" stroke-dasharray="1.2 1.8"/>
<polyline points="57.32,482.39 57.62,482.39 57.91,482.38 58.20,482.37 58.49,482.36 58.78,482.35 59.07,482.34 59.36,482.33 59.65,482.32 59.94,482.31 60.23,482.30 60.53,482.29 60.82,482.28 61.11,482.27 61.40,482.26 61.69,482.25 61.98,482.24 62.27,482.23 62.56,482.22 62.85,482.21 63.14,482.21 63.44,482.20 63.73,482.19 64.02,482.18 64.31,482.17 64.60,482.16 64.89,482.15 65.18,482.14 65.47,482.13 65.76,482.12 66.06,482.12 66.35,482.11 66.64,482.10 66.93,482.10 67.22,482.09 67.51,482.08 67.80,482.08 68.09,482.07 68.38,482.07 68.67,482.06 68.97,482.06 69.26,482.05 69.55,482.05 69.84,482.04 70.13,482.04 70.42,482.03 70.71,482.03 71.00,482.02 71.29,482.01 71.58,482.01 71.88,482.00 72.17,481.99 72.46,481.98 72.75,481.97 73.04,481.96 73.33,481.94 73.62,481.93 73.91,481.92 74.20,481.90 74.49,481.88 74.78,481.86 75.08,481.78 75.37,481.59 75.66,481.35 75.95,481.01 76.24,480.61 76.53,480.17 76.82,479.69 77.11,479.20 77.40,478.71 77.69,478.26 77.99,477.84 78.28,477.49 78.57,477.21 78.86,476.95 79.15,476.71 79.44,476.47 79.73,476.24 80.02,476.01 80.31,475.79 80.61,475.58 80.90,475.38 81.19,475.18 81.48,474.99 81.77,474.81 82.06,474.63 82.35,474.46 82.64,474.30 82.93,474.15 83.22,474.01 83.52,473.87 83.81,473.74 84.10,473.61 84.39,473.49 84.68,473.37 84.97,473.26 85.26,473.15 85.55,473.04 85.84,472.94 86.13,472.84 86.42,472.75 86.72,472.66 87.01,472.56 87.30,472.42 87.59,472.29 87.88,472.16 88.17,472.04 88.46,471.93 88.75,471.83 89.04,471.73 89.34,471.63 89.63,471.54 89.92,471.44 90.21,471.34 90.50,471.25 90.79,471.15 91.08,471.06 91.37,470.97 91.66,470.88 91.95,470.79 92.25,470.71 92.54,470.63 92.83,470.55 93.12,470.47 93.41,470.40 93.70,470.33 93.99,470.27 94.28,470.21 94.57,470.16 94.86,470.11 95.16,470.07 95.45,470.03 95.74,470.00 96.03,469.97 96.32,469.95 96.61,469.94 96.90,469.94 97.19,469.94 97.48,469.94 97.77,469.94 98.06,469.95 98.36,469.95 98.65,469.95 98.94,469.96 99.23,469.96 99.52,469.97 99.81,469.98 100.10,469.98 100.39,469.99 100.68,470.00 100.97,470.01 101.27,470.02 101.56,470.03 101.85,470.04 102.14,470.05 102.43,470.06 102.72,470.07 103.01,470.08 103.30,470.10 103.59,470.11 103.88,470.12 104.18,470.14 104.47,470.15 104.76,470.16 105.05,470.18 105.34,470.19 105.63,470.20 105.92,470.22 106.21,470.24 106.50,470.26 106.80,470.29 107.09,470.32 107.38,470.35 107.67,470.39 107.96,470.43 108.25,470.47 108.54,470.51 108.83,470.56 109.12,470.61 109.41,470.66 109.70,470.71 110.00,470.77 110.29,470.83 110.58,470.88 110.87,470.95 111.16,471.01 111.45,471.07 111.74,471.14 112.03,471.20 112.32,471.27 112.62,471.34 112.91,471.41 113.20,471.48 113.49,471.55 113.78,471.62 114.07,471.69 114.36,471.76 114.65,471.83 114.94,471.90 115.23,471.97 115.53,472.04 115.82,472.11 116.11,472.18 116.40,472.25 116.69,472.32 116.98,472.39 117.27,472.46 117.56,472.52 117.85,472.59 118.14,472.65 118.44,472.71 118.73,472.77 119.02,472.83 119.31,472.88 119.60,472.94 119.89,472.99 120.18,473.04 120.47,473.09 120.76,473.13 121.05,473.18 121.34,473.22 121.64,473.27 121.93,473.31 122.22,473.35 122.51,473.39 122.80,473.44 123.09,473.48 123.38,473.52 123.67,473.56 123.96,473.60 124.25,473.64 124.55,473.68 124.84,473.71 125.13,473.75 125.42,473.79 125.71,473.83 126.00,473.87 126.29,473.90 126.58,473.94 126.87,473.98 127.16,474.01 127.46,474.05 127.75,474.09 128.04,474.12 128.33,474.16 128.62,474.19 128.91,474.23 129.20,474.26 129.49,474.30 129.78,474.33 130.07,474.37 130.37,474.40 130.66,474.44 130.95,474.48 131.24,474.51 131.53,474.55 131.82,474.58 132.11,474.62 132.40,474.65 132.69,474.69 132.99,474.72 133.28,474.76 133.57,474.79 133.86,474.83 134.15,474.87 134.44,474.90 134.73,474.94 135.02,474.97 135.31,475.01 135.60,475.05 135.90,475.09 136.19,475.12 136.48,475.16 136.77,475.20 137.06,475.24 137.35,475.27 137.64,475.31 137.93,475.35 138.22,475.39 138.51,475.43 138.81,475.46 139.10,475.50 139.39,475.54 139.68,475.58 139.97,475.62 140.26,475.65 140.55,475.69 140.84,475.73 141.13,475.77 141.42,475.81 141.72,475.84 142.01,475.88 142.30,475.92 142.59,475.96 142.88,475.99 143.17,476.03 143.46,476.07 143.75,476.10 144.04,476.14 144.33,476.18 144.62,476.21 144.92,476.25 145.21,476.28 145.50,476.32 145.79,476.36 146.08,476.39 146.37,476.43 146.66,476.46 146.95,476.49 147.24,476.53 147.53,476.56 147.83,476.60 148.12,476.63 148.41,476.66 148.70,476.69 148.99,476.73 149.28,476.76 149.57,476.79 149.86,476.82 150.15,476.85 150.44,476.88 150.74,476.91 151.03,476.94 151.32,476.97 151.61,477.00 151.90,477.03 152.19,477.06 152.48,477.09 152.77,477.13 153.06,477.16 153.35,477.19 153.65,477.22 153.94,477.25 154.23,477.28 154.52,477.31 154.81,477.33 155.10,477.36 155.39,477.39 155.68,477.42 155.97,477.45 156.27,477.48 156.56,477.51 156.85,477.54 157.14,477.56 157.43,477.59 157.72,477.62 158.01,477.65 158.30,477.67 158.59,477.70 158.88,477.73 159.18,477.75 159.47,477.78 159.76,477.80 160.05,477.83 160.34,477.85 160.63,477.88 160.92,477.90 161.21,477.92 161.50,477.95 161.79,477.97 162.09,477.99 162.38,478.01 162.67,478.03 162.96,478.05 163.25,478.07 163.54,478.09 163.83,478.11 164.12,478.13 164.41,478.15 164.70,478.17 165.00,478.18 165.29,478.20 165.58,478.22 165.87,478.23 166.16,478.25 166.45,478.27 166.74,478.28 167.03,478.30 167.32,478.31 167.61,478.33 167.91,478.34 168.20,478.36 168.49,478.37 168.78,478.39 169.07,478.40 169.36,478.42 169.65,478.43 169.94,478.45 170.23,478.46 170.52,478.47 170.81,478.49 171.11,478.50 171.40,478.51 171.69,478.53 171.98,478.54 172.27,478.55 172.56,478.56 172.85,478.58 173.14,478.59 173.43,478.60 173.72,478.61 174.02,478.63 174.31,478.64 174.60,478.65 174.89,478.66 175.18,478.67 175.47,478.68 175.76,478.70 176.05,478.71 176.34,478.72 176.63,478.73 176.93,478.74 177.22,478.75 177.51,478.76 177.80,478.77 178.09,478.79 178.38,478.80 178.67,478.81 178.96,478.82 179.25,478.83 179.55,478.84 179.84,478.85 180.13,478.86 180.42,478.87 180.71,478.89 181.00,478.90 181.29,478.91 181.58,478.92 181.87,478.93 182.16,478.94 182.46,478.95 182.75,478.96 183.04,478.97 183.33,478.99 183.62,479.00 183.91,479.01 184.20,479.02 184.49,479.03 184.78,479.04 185.07,479.05 185.37,479.07 185.66,479.08 185.95,479.09 186.24,479.10 186.53,479.11 186.82,479.13 187.11,479.14 187.40,479.15 187.69,479.17 187.98,479.18 188.28,479.19 188.57,479.21 188.86,479.22 189.15,479.24 189.44,479.25 189.73,479.27 190.02,479.28 190.31,479.30 190.60,479.31 190.89,479.33 191.19,479.35 191.48,479.36 191.77,479.38 192.06,479.39 192.35,479.40 192.64,479.42 192.93,479.43 193.22,479.45 193.51,479.46 193.80,479.47 194.09,479.48 194.39,479.50 194.68,479.51 194.97,479.52 195.26,479.53 195.55,479.54 195.84,479.55 196.13,479.55 196.42,479.56 196.71,479.57 197.01,479.57 197.30,479.58 197.59,479.58 197.88,479.58 198.17,479.59 198.46,479.59 198.75,479.58 199.04,479.57 199.33,479.55 199.62,479.52 199.92,479.49 200.21,479.43 200.50,478.84 200.79,477.71 201.08,476.11 201.37,474.09 201.66,471.73 201.95,469.11 202.24,466.29 202.53,463.33 202.83,460.32 203.12,457.32 203.41,454.39 203.70,451.61 203.99,449.05 204.28,446.77 204.57,444.67 204.86,442.60 205.15,440.55 205.44,438.53 205.74,436.53 206.03,434.56 206.32,432.61 206.61,430.63 206.90,428.60 207.19,426.60 207.48,424.70 207.77,422.96 208.06,421.46 208.35,420.13 208.65,418.90 208.94,417.81 209.23,416.91 209.52,416.22 209.81,415.61 210.10,415.10 210.39,414.79 210.68,414.75 210.97,414.81 211.26,414.85 211.56,414.82 211.85,414.99 212.14,415.45 212.43,416.08 212.72,416.78 213.01,417.47 213.30,418.16 213.59,418.95 213.88,419.80 214.17,420.70 214.47,421.63 214.76,422.56 215.05,423.47 215.34,424.34 215.63,425.15 215.92,425.94 216.21,426.71 216.50,427.48 216.79,428.23 217.08,428.98 217.38,429.71 217.67,430.44 217.96,431.17 218.25,431.88 218.54,432.60 218.83,433.31 219.12,434.02 219.41,434.72 219.70,435.43 219.99,436.13 220.28,436.83 220.58,437.53 220.87,438.22 221.16,438.90 221.45,439.58 221.74,440.26 222.03,440.94 222.32,441.61 222.61,442.27 222.90,442.93 223.20,443.58 223.49,444.23 223.78,444.88 224.07,445.53 224.36,446.17 224.65,446.80 224.94,447.44 225.23,448.07 225.52,448.70 225.81,449.33 226.11,449.95 226.40,450.57 226.69,451.19 226.98,451.80 227.27,452.41 227.56,453.02 227.85,453.62 228.14,454.22 228.43,454.81 228.72,455.40 229.02,455.99 229.31,456.57" fill="none" stroke="#000" stroke-width="1.1" stroke-linejoin="round" stroke-dasharray="1.2 1.8"/>
<polyline points="57.32,482.66 57.62,482.65 57.91,482.65 58.20,482.64 58.49,482.63 58.78,482.63 59.07,482.62 59.36,482.61 59.65,482.60 59.94,482.60 60.23,482.59 60.53,482.58 60.82,482.57 61.11,482.56 61.40,482.55 61.69,482.54 61.98,482.53 62.27,482.52 62.56,482.51 62.85,482.50 63.14,482.49 63.44,482.48 63.73,482.47 64.02,482.46 64.31,482.45 64.60,482.43 64.89,482.42 65.18,482.41 65.47,482.40 65.76,482.39 66.06,482.38 66.35,482.37 66.64,482.35 66.93,482.34 67.22,482.34 67.51,482.33 67.80,482.32 68.09,482.31 68.38,482.30 68.67,482.29 68.97,482.28 69.26,482.27 69.55,482.25 69.84,482.24 70.13,482.23 70.42,482.22 70.71,482.20 71.00,482.19 71.29,482.17 71.58,482.15 71.88,482.14 72.17,482.12 72.46,482.10 72.75,482.07 73.04,482.05 73.33,482.02 73.62,482.00 73.91,481.97 74.20,481.93 74.49,481.90 74.78,481.86 75.08,481.78 75.37,481.58 75.66,481.28 75.95,480.92 76.24,480.50 76.53,480.04 76.82,479.55 77.11,479.05 77.40,478.55 77.69,478.06 77.99,477.60 78.28,477.18 78.57,476.80 78.86,476.44 79.15,476.08 79.44,475.71 79.73,475.35 80.02,474.98 80.31,474.63 80.61,474.27 80.90,473.92 81.19,473.57 81.48,473.23 81.77,472.90 82.06,472.58 82.35,472.27 82.64,471.97 82.93,471.68 83.22,471.40 83.52,471.14 83.81,470.89 84.10,470.66 84.39,470.43 84.68,470.21 84.97,469.99 85.26,469.78 85.55,469.57 85.84,469.37 86.13,469.17 86.42,468.98 86.72,468.80 87.01,468.63 87.30,468.49 87.59,468.36 87.88,468.23 88.17,468.10 88.46,467.98 88.75,467.86 89.04,467.74 89.34,467.62 89.63,467.50 89.92,467.37 90.21,467.25 90.50,467.12 90.79,467.00 91.08,466.87 91.37,466.75 91.66,466.63 91.95,466.51 92.25,466.39 92.54,466.27 92.83,466.16 93.12,466.05 93.41,465.95 93.70,465.85 93.99,465.76 94.28,465.68 94.57,465.60 94.86,465.53 95.16,465.46 95.45,465.41 95.74,465.36 96.03,465.33 96.32,465.30 96.61,465.28 96.90,465.28 97.19,465.28 97.48,465.28 97.77,465.28 98.06,465.29 98.36,465.29 98.65,465.30 98.94,465.31 99.23,465.32 99.52,465.33 99.81,465.34 100.10,465.35 100.39,465.36 100.68,465.38 100.97,465.39 101.27,465.41 101.56,465.42 101.85,465.44 102.14,465.46 102.43,465.47 102.72,465.49 103.01,465.51 103.30,465.53 103.59,465.55 103.88,465.57 104.18,465.59 104.47,465.61 104.76,465.64 105.05,465.66 105.34,465.68 105.63,465.70 105.92,465.72 106.21,465.75 106.50,465.78 106.80,465.81 107.09,465.85 107.38,465.89 107.67,465.93 107.96,465.97 108.25,466.02 108.54,466.07 108.83,466.12 109.12,466.17 109.41,466.23 109.70,466.29 110.00,466.35 110.29,466.41 110.58,466.47 110.87,466.53 111.16,466.60 111.45,466.67 111.74,466.74 112.03,466.81 112.32,466.88 112.62,466.95 112.91,467.02 113.20,467.09 113.49,467.17 113.78,467.24 114.07,467.32 114.36,467.39 114.65,467.47 114.94,467.54 115.23,467.62 115.53,467.69 115.82,467.77 116.11,467.84 116.40,467.91 116.69,467.99 116.98,468.06 117.27,468.13 117.56,468.20 117.85,468.27 118.14,468.34 118.44,468.41 118.73,468.48 119.02,468.54 119.31,468.61 119.60,468.67 119.89,468.73 120.18,468.79 120.47,468.84 120.76,468.90 121.05,468.95 121.34,469.01 121.64,469.06 121.93,469.11 122.22,469.17 122.51,469.22 122.80,469.27 123.09,469.32 123.38,469.38 123.67,469.43 123.96,469.48 124.25,469.53 124.55,469.58 124.84,469.64 125.13,469.69 125.42,469.74 125.71,469.79 126.00,469.84 126.29,469.89 126.58,469.94 126.87,469.99 127.16,470.04 127.46,470.09 127.75,470.13 128.04,470.18 128.33,470.23 128.62,470.28 128.91,470.33 129.20,470.37 129.49,470.42 129.78,470.47 130.07,470.52 130.37,470.56 130.66,470.61 130.95,470.65 131.24,470.70 131.53,470.75 131.82,470.79 132.11,470.84 132.40,470.88 132.69,470.92 132.99,470.97 133.28,471.01 133.57,471.05 133.86,471.10 134.15,471.14 134.44,471.18 134.73,471.22 135.02,471.26 135.31,471.31 135.60,471.35 135.90,471.39 136.19,471.43 136.48,471.47 136.77,471.51 137.06,471.55 137.35,471.59 137.64,471.63 137.93,471.68 138.22,471.72 138.51,471.76 138.81,471.80 139.10,471.84 139.39,471.88 139.68,471.92 139.97,471.95 140.26,471.99 140.55,472.03 140.84,472.07 141.13,472.11 141.42,472.15 141.72,472.19 142.01,472.22 142.30,472.26 142.59,472.30 142.88,472.34 143.17,472.37 143.46,472.41 143.75,472.45 144.04,472.48 144.33,472.52 144.62,472.55 144.92,472.59 145.21,472.62 145.50,472.65 145.79,472.69 146.08,472.72 146.37,472.75 146.66,472.79 146.95,472.82 147.24,472.85 147.53,472.88 147.83,472.91 148.12,472.94 148.41,472.97 148.70,473.00 148.99,473.03 149.28,473.06 149.57,473.08 149.86,473.11 150.15,473.14 150.44,473.16 150.74,473.19 151.03,473.22 151.32,473.24 151.61,473.27 151.90,473.29 152.19,473.32 152.48,473.34 152.77,473.37 153.06,473.39 153.35,473.42 153.65,473.44 153.94,473.46 154.23,473.49 154.52,473.51 154.81,473.53 155.10,473.56 155.39,473.58 155.68,473.60 155.97,473.62 156.27,473.64 156.56,473.67 156.85,473.69 157.14,473.71 157.43,473.73 157.72,473.75 158.01,473.77 158.30,473.79 158.59,473.81 158.88,473.83 159.18,473.85 159.47,473.87 159.76,473.89 160.05,473.91 160.34,473.93 160.63,473.95 160.92,473.97 161.21,473.99 161.50,474.00 161.79,474.02 162.09,474.04 162.38,474.06 162.67,474.07 162.96,474.09 163.25,474.11 163.54,474.13 163.83,474.14 164.12,474.16 164.41,474.17 164.70,474.19 165.00,474.21 165.29,474.22 165.58,474.24 165.87,474.25 166.16,474.27 166.45,474.28 166.74,474.30 167.03,474.31 167.32,474.33 167.61,474.34 167.91,474.36 168.20,474.37 168.49,474.38 168.78,474.40 169.07,474.41 169.36,474.43 169.65,474.44 169.94,474.45 170.23,474.47 170.52,474.48 170.81,474.49 171.11,474.51 171.40,474.52 171.69,474.53 171.98,474.54 172.27,474.56 172.56,474.57 172.85,474.58 173.14,474.59 173.43,474.61 173.72,474.62 174.02,474.63 174.31,474.64 174.60,474.65 174.89,474.67 175.18,474.68 175.47,474.69 175.76,474.70 176.05,474.71 176.34,474.72 176.63,474.74 176.93,474.75 177.22,474.76 177.51,474.77 177.80,474.78 178.09,474.79 178.38,474.80 178.67,474.82 178.96,474.83 179.25,474.84 179.55,474.85 179.84,474.86 180.13,474.87 180.42,474.89 180.71,474.90 181.00,474.91 181.29,474.92 181.58,474.93 181.87,474.94 182.16,474.96 182.46,474.97 182.75,474.98 183.04,474.99 183.33,475.00 183.62,475.01 183.91,475.03 184.20,475.04 184.49,475.05 184.78,475.06 185.07,475.08 185.37,475.09 185.66,475.10 185.95,475.11 186.24,475.13 186.53,475.14 186.82,475.15 187.11,475.17 187.40,475.18 187.69,475.19 187.98,475.21 188.28,475.23 188.57,475.24 188.86,475.26 189.15,475.27 189.44,475.29 189.73,475.31 190.02,475.32 190.31,475.34 190.60,475.36 190.89,475.38 191.19,475.39 191.48,475.41 191.77,475.43 192.06,475.44 192.35,475.46 192.64,475.48 192.93,475.49 193.22,475.51 193.51,475.52 193.80,475.54 194.09,475.55 194.39,475.56 194.68,475.58 194.97,475.59 195.26,475.60 195.55,475.61 195.84,475.62 196.13,475.63 196.42,475.64 196.71,475.64 197.01,475.65 197.30,475.65 197.59,475.66 197.88,475.66 198.17,475.66 198.46,475.66 198.75,475.66 199.04,475.64 199.33,475.61 199.62,475.57 199.92,475.52 200.21,475.39 200.50,474.96 200.79,474.24 201.08,473.30 201.37,472.18 201.66,470.94 201.95,469.61 202.24,468.26 202.53,466.93 202.83,465.68 203.12,464.54 203.41,463.58 203.70,462.72 203.99,461.86 204.28,461.01 204.57,460.18 204.86,459.38 205.15,458.61 205.44,457.87 205.74,457.18 206.03,456.55 206.32,455.98 206.61,455.47 206.90,454.98 207.19,454.50 207.48,454.03 207.77,453.58 208.06,453.16 208.35,452.76 208.65,452.39 208.94,452.05 209.23,451.75 209.52,451.50 209.81,451.29 210.10,451.12 210.39,450.99 210.68,450.87 210.97,450.75 211.26,450.64 211.56,450.54 211.85,450.46 212.14,450.40 212.43,450.35 212.72,450.33 213.01,450.34 213.30,450.37 213.59,450.43 213.88,450.51 214.17,450.60 214.47,450.71 214.76,450.84 215.05,450.97 215.34,451.11 215.63,451.25 215.92,451.39 216.21,451.54 216.50,451.72 216.79,451.93 217.08,452.15 217.38,452.40 217.67,452.65 217.96,452.91 218.25,453.18 218.54,453.46 218.83,453.73 219.12,453.99 219.41,454.25 219.70,454.49 219.99,454.72 220.28,454.95 220.58,455.18 220.87,455.41 221.16,455.64 221.45,455.86 221.74,456.09 222.03,456.31 222.32,456.53 222.61,456.75 222.90,456.98 223.20,457.20 223.49,457.41 223.78,457.63 224.07,457.85 224.36,458.07 224.65,458.28 224.94,458.49 225.23,458.71 225.52,458.92 225.81,459.13 226.11,459.34 226.40,459.55 226.69,459.76 226.98,459.97 227.27,460.17 227.56,460.38 227.85,460.58 228.14,460.79 228.43,460.99 228.72,461.19 229.02,461.39 229.31,461.59" fill="none" stroke="#0000ff" stroke-width="1.1" stroke-linejoin="round" stroke-dasharray="1.2 1.8"/>
<polyline points="57.32,484.78 57.62,484.77 57.91,484.77 58.20,484.76 58.49,484.75 58.78,484.75 59.07,484.74 59.36,484.73 59.65,484.72 59.94,484.72 60.23,484.71 60.53,484.70 60.82,484.69 61.11,484.68 61.40,484.67 61.69,484.66 61.98,484.65 62.27,484.64 62.56,484.63 62.85,484.62 63.14,484.61 63.44,484.60 63.73,484.59 64.02,484.58 64.31,484.57 64.60,484.55 64.89,484.54 65.18,484.53 65.47,484.52 65.76,484.51 66.06,484.50 66.35,484.49 66.64,484.47 66.93,484.46 67.22,484.46 67.51,484.45 67.80,484.44 68.09,484.43 68.38,484.42 68.67,484.41 68.97,484.40 69.26,484.39 69.55,484.37 69.84,484.36 70.13,484.35 70.42,484.34 70.71,484.32 71.00,484.31 71.29,484.29 71.58,484.27 71.88,484.26 72.17,484.24 72.46,484.22 72.75,484.19 73.04,484.17 73.33,484.14 73.62,484.12 73.91,484.09 74.20,484.05 74.49,484.02 74.78,483.98 75.08,483.90 75.37,483.73 75.66,483.51 75.95,483.22 76.24,482.88 76.53,482.50 76.82,482.09 77.11,481.67 77.40,481.25 77.69,480.84 77.99,480.46 78.28,480.12 78.57,479.82 78.86,479.54 79.15,479.26 79.44,478.97 79.73,478.69 80.02,478.40 80.31,478.12 80.61,477.85 80.90,477.58 81.19,477.31 81.48,477.05 81.77,476.80 82.06,476.56 82.35,476.32 82.64,476.10 82.93,475.89 83.22,475.70 83.52,475.51 83.81,475.35 84.10,475.19 84.39,475.04 84.68,474.90 84.97,474.76 85.26,474.63 85.55,474.50 85.84,474.38 86.13,474.26 86.42,474.15 86.72,474.04 87.01,473.93 87.30,473.79 87.59,473.66 87.88,473.53 88.17,473.40 88.46,473.28 88.75,473.16 89.04,473.04 89.34,472.92 89.63,472.80 89.92,472.67 90.21,472.55 90.50,472.42 90.79,472.30 91.08,472.17 91.37,472.05 91.66,471.93 91.95,471.81 92.25,471.69 92.54,471.57 92.83,471.46 93.12,471.35 93.41,471.25 93.70,471.15 93.99,471.06 94.28,470.98 94.57,470.90 94.86,470.83 95.16,470.76 95.45,470.71 95.74,470.66 96.03,470.63 96.32,470.60 96.61,470.58 96.90,470.58 97.19,470.58 97.48,470.58 97.77,470.58 98.06,470.59 98.36,470.59 98.65,470.60 98.94,470.61 99.23,470.62 99.52,470.63 99.81,470.64 100.10,470.65 100.39,470.66 100.68,470.68 100.97,470.69 101.27,470.71 101.56,470.72 101.85,470.74 102.14,470.76 102.43,470.77 102.72,470.79 103.01,470.81 103.30,470.83 103.59,470.85 103.88,470.87 104.18,470.89 104.47,470.91 104.76,470.94 105.05,470.96 105.34,470.98 105.63,471.00 105.92,471.02 106.21,471.05 106.50,471.08 106.80,471.11 107.09,471.15 107.38,471.19 107.67,471.23 107.96,471.27 108.25,471.32 108.54,471.37 108.83,471.42 109.12,471.47 109.41,471.53 109.70,471.59 110.00,471.65 110.29,471.71 110.58,471.77 110.87,471.83 111.16,471.90 111.45,471.97 111.74,472.04 112.03,472.11 112.32,472.18 112.62,472.25 112.91,472.32 113.20,472.39 113.49,472.47 113.78,472.54 114.07,472.62 114.36,472.69 114.65,472.77 114.94,472.84 115.23,472.92 115.53,472.99 115.82,473.07 116.11,473.14 116.40,473.21 116.69,473.29 116.98,473.36 117.27,473.43 117.56,473.50 117.85,473.57 118.14,473.64 118.44,473.71 118.73,473.78 119.02,473.84 119.31,473.91 119.60,473.97 119.89,474.03 120.18,474.09 120.47,474.14 120.76,474.20 121.05,474.25 121.34,474.31 121.64,474.36 121.93,474.41 122.22,474.47 122.51,474.52 122.80,474.57 123.09,474.62 123.38,474.68 123.67,474.73 123.96,474.78 124.25,474.83 124.55,474.88 124.84,474.94 125.13,474.99 125.42,475.04 125.71,475.09 126.00,475.14 126.29,475.19 126.58,475.24 126.87,475.29 127.16,475.34 127.46,475.39 127.75,475.43 128.04,475.48 128.33,475.53 128.62,475.58 128.91,475.63 129.20,475.67 129.49,475.72 129.78,475.77 130.07,475.82 130.37,475.86 130.66,475.91 130.95,475.95 131.24,476.00 131.53,476.05 131.82,476.09 132.11,476.14 132.40,476.18 132.69,476.22 132.99,476.27 133.28,476.31 133.57,476.35 133.86,476.40 134.15,476.44 134.44,476.48 134.73,476.52 135.02,476.56 135.31,476.61 135.60,476.65 135.90,476.69 136.19,476.73 136.48,476.77 136.77,476.81 137.06,476.85 137.35,476.89 137.64,476.93 137.93,476.98 138.22,477.02 138.51,477.06 138.81,477.10 139.10,477.14 139.39,477.18 139.68,477.22 139.97,477.25 140.26,477.29 140.55,477.33 140.84,477.37 141.13,477.41 141.42,477.45 141.72,477.49 142.01,477.52 142.30,477.56 142.59,477.60 142.88,477.64 143.17,477.67 143.46,477.71 143.75,477.75 144.04,477.78 144.33,477.82 144.62,477.85 144.92,477.89 145.21,477.92 145.50,477.95 145.79,477.99 146.08,478.02 146.37,478.05 146.66,478.09 146.95,478.12 147.24,478.15 147.53,478.18 147.83,478.21 148.12,478.24 148.41,478.27 148.70,478.30 148.99,478.33 149.28,478.36 149.57,478.38 149.86,478.41 150.15,478.44 150.44,478.46 150.74,478.49 151.03,478.52 151.32,478.54 151.61,478.57 151.90,478.59 152.19,478.62 152.48,478.64 152.77,478.67 153.06,478.69 153.35,478.72 153.65,478.74 153.94,478.76 154.23,478.79 154.52,478.81 154.81,478.83 155.10,478.86 155.39,478.88 155.68,478.90 155.97,478.92 156.27,478.94 156.56,478.97 156.85,478.99 157.14,479.01 157.43,479.03 157.72,479.05 158.01,479.07 158.30,479.09 158.59,479.11 158.88,479.13 159.18,479.15 159.47,479.17 159.76,479.19 160.05,479.21 160.34,479.23 160.63,479.25 160.92,479.27 161.21,479.29 161.50,479.30 161.79,479.32 162.09,479.34 162.38,479.36 162.67,479.37 162.96,479.39 163.25,479.41 163.54,479.43 163.83,479.44 164.12,479.46 164.41,479.47 164.70,479.49 165.00,479.51 165.29,479.52 165.58,479.54 165.87,479.55 166.16,479.57 166.45,479.58 166.74,479.60 167.03,479.61 167.32,479.63 167.61,479.64 167.91,479.66 168.20,479.67 168.49,479.68 168.78,479.70 169.07,479.71 169.36,479.73 169.65,479.74 169.94,479.75 170.23,479.77 170.52,479.78 170.81,479.79 171.11,479.81 171.40,479.82 171.69,479.83 171.98,479.84 172.27,479.86 172.56,479.87 172.85,479.88 173.14,479.89 173.43,479.91 173.72,479.92 174.02,479.93 174.31,479.94 174.60,479.95 174.89,479.97 175.18,479.98 175.47,479.99 175.76,480.00 176.05,480.01 176.34,480.02 176.63,480.04 176.93,480.05 177.22,480.06 177.51,480.07 177.80,480.08 178.09,480.09 178.38,480.10 178.67,480.12 178.96,480.13 179.25,480.14 179.55,480.15 179.84,480.16 180.13,480.17 180.42,480.19 180.71,480.20 181.00,480.21 181.29,480.22 181.58,480.23 181.87,480.24 182.16,480.26 182.46,480.27 182.75,480.28 183.04,480.29 183.33,480.30 183.62,480.31 183.91,480.33 184.20,480.34 184.49,480.35 184.78,480.36 185.07,480.38 185.37,480.39 185.66,480.40 185.95,480.41 186.24,480.43 186.53,480.44 186.82,480.45 187.11,480.47 187.40,480.48 187.69,480.49 187.98,480.51 188.28,480.53 188.57,480.54 188.86,480.56 189.15,480.57 189.44,480.59 189.73,480.61 190.02,480.62 190.31,480.64 190.60,480.66 190.89,480.68 191.19,480.69 191.48,480.71 191.77,480.73 192.06,480.74 192.35,480.76 192.64,480.78 192.93,480.79 193.22,480.81 193.51,480.82 193.80,480.84 194.09,480.85 194.39,480.86 194.68,480.88 194.97,480.89 195.26,480.90 195.55,480.91 195.84,480.92 196.13,480.93 196.42,480.94 196.71,480.94 197.01,480.95 197.30,480.95 197.59,480.96 197.88,480.96 198.17,480.96 198.46,480.96 198.75,480.96 199.04,480.94 199.33,480.91 199.62,480.87 199.92,480.82 200.21,480.69 200.50,480.26 200.79,479.54 201.08,478.60 201.37,477.48 201.66,476.24 201.95,474.91 202.24,473.56 202.53,472.23 202.83,470.98 203.12,469.84 203.41,468.88 203.70,468.02 203.99,467.16 204.28,466.31 204.57,465.48 204.86,464.68 205.15,463.91 205.44,463.17 205.74,462.48 206.03,461.85 206.32,461.28 206.61,460.77 206.90,460.28 207.19,459.80 207.48,459.33 207.77,458.88 208.06,458.46 208.35,458.06 208.65,457.69 208.94,457.35 209.23,457.05 209.52,456.80 209.81,456.59 210.10,456.42 210.39,456.29 210.68,456.17 210.97,456.05 211.26,455.94 211.56,455.84 211.85,455.76 212.14,455.70 212.43,455.65 212.72,455.63 213.01,455.64 213.30,455.67 213.59,455.73 213.88,455.81 214.17,455.90 214.47,456.01 214.76,456.14 215.05,456.27 215.34,456.41 215.63,456.55 215.92,456.69 216.21,456.84 216.50,457.02 216.79,457.23 217.08,457.45 217.38,457.70 217.67,457.95 217.96,458.21 218.25,458.48 218.54,458.76 218.83,459.03 219.12,459.29 219.41,459.55 219.70,459.79 219.99,460.02 220.28,460.25 220.58,460.48 220.87,460.71 221.16,460.94 221.45,461.16 221.74,461.39 222.03,461.61 222.32,461.83 222.61,462.05 222.90,462.28 223.20,462.50 223.49,462.71 223.78,462.93 224.07,463.15 224.36,463.37 224.65,463.58 224.94,463.79 225.23,464.01 225.52,464.22 225.81,464.43 226.11,464.64 226.40,464.85 226.69,465.06 226.98,465.27 227.27,465.47 227.56,465.68 227.85,465.88 228.14,466.09 228.43,466.29 228.72,466.49 229.02,466.69 229.31,466.89" fill="none" stroke="#0000ff" stroke-width="1.1" stroke-linejoin="round" stroke-dasharray="1.2 1.8"/>
<polyline points="57.32,481.60 57.62,481.59 57.91,481.58 58.20,481.57 58.49,481.56 58.78,481.55 59.07,481.54 59.36,481.53 59.65,481.52 59.94,481.51 60.23,481.50 60.53,481.49 60.82,481.48 61.11,481.47 61.40,481.47 61.69,481.46 61.98,481.45 62.27,481.44 62.56,481.43 62.85,481.42 63.14,481.41 63.44,481.40 63.73,481.39 64.02,481.38 64.31,481.37 64.60,481.36 64.89,481.36 65.18,481.35 65.47,481.34 65.76,481.33 66.06,481.32 66.35,481.31 66.64,481.31 66.93,481.30 67.22,481.29 67.51,481.29 67.80,481.28 68.09,481.28 68.38,481.27 68.67,481.27 68.97,481.26 69.26,481.26 69.55,481.25 69.84,481.25 70.13,481.24 70.42,481.24 70.71,481.23 71.00,481.23 71.29,481.22 71.58,481.21 71.88,481.20 72.17,481.19 72.46,481.18 72.75,481.17 73.04,481.16 73.33,481.15 73.62,481.14 73.91,481.12 74.20,481.11 74.49,481.09 74.78,481.07 75.08,480.99 75.37,480.81 75.66,480.53 75.95,480.19 76.24,479.78 76.53,479.32 76.82,478.84 77.11,478.34 77.40,477.85 77.69,477.37 77.99,476.93 78.28,476.53 78.57,476.19 78.86,475.87 79.15,475.56 79.44,475.24 79.73,474.93 80.02,474.63 80.31,474.32 80.61,474.03 80.90,473.73 81.19,473.45 81.48,473.17 81.77,472.90 82.06,472.64 82.35,472.38 82.64,472.14 82.93,471.90 83.22,471.68 83.52,471.47 83.81,471.26 84.10,471.07 84.39,470.88 84.68,470.69 84.97,470.50 85.26,470.32 85.55,470.15 85.84,469.98 86.13,469.81 86.42,469.65 86.72,469.50 87.01,469.35 87.30,469.21 87.59,469.08 87.88,468.96 88.17,468.84 88.46,468.74 88.75,468.64 89.04,468.56 89.34,468.47 89.63,468.39 89.92,468.30 90.21,468.22 90.50,468.13 90.79,468.05 91.08,467.97 91.37,467.89 91.66,467.81 91.95,467.74 92.25,467.67 92.54,467.60 92.83,467.53 93.12,467.47 93.41,467.41 93.70,467.35 93.99,467.30 94.28,467.25 94.57,467.20 94.86,467.16 95.16,467.13 95.45,467.10 95.74,467.07 96.03,467.05 96.32,467.04 96.61,467.03 96.90,467.02 97.19,467.03 97.48,467.03 97.77,467.03 98.06,467.03 98.36,467.03 98.65,467.04 98.94,467.04 99.23,467.05 99.52,467.06 99.81,467.06 100.10,467.07 100.39,467.08 100.68,467.09 100.97,467.09 101.27,467.10 101.56,467.11 101.85,467.12 102.14,467.13 102.43,467.15 102.72,467.16 103.01,467.17 103.30,467.18 103.59,467.19 103.88,467.21 104.18,467.22 104.47,467.23 104.76,467.25 105.05,467.26 105.34,467.28 105.63,467.29 105.92,467.31 106.21,467.33 106.50,467.35 106.80,467.38 107.09,467.41 107.38,467.44 107.67,467.47 107.96,467.51 108.25,467.55 108.54,467.60 108.83,467.64 109.12,467.69 109.41,467.74 109.70,467.80 110.00,467.85 110.29,467.91 110.58,467.97 110.87,468.03 111.16,468.09 111.45,468.16 111.74,468.22 112.03,468.29 112.32,468.35 112.62,468.42 112.91,468.49 113.20,468.56 113.49,468.63 113.78,468.70 114.07,468.77 114.36,468.84 114.65,468.91 114.94,468.99 115.23,469.06 115.53,469.13 115.82,469.20 116.11,469.27 116.40,469.34 116.69,469.41 116.98,469.47 117.27,469.54 117.56,469.61 117.85,469.67 118.14,469.73 118.44,469.79 118.73,469.85 119.02,469.91 119.31,469.97 119.60,470.02 119.89,470.08 120.18,470.13 120.47,470.17 120.76,470.22 121.05,470.26 121.34,470.31 121.64,470.35 121.93,470.40 122.22,470.44 122.51,470.48 122.80,470.52 123.09,470.56 123.38,470.60 123.67,470.64 123.96,470.68 124.25,470.72 124.55,470.76 124.84,470.80 125.13,470.84 125.42,470.88 125.71,470.91 126.00,470.95 126.29,470.99 126.58,471.03 126.87,471.06 127.16,471.10 127.46,471.14 127.75,471.17 128.04,471.21 128.33,471.24 128.62,471.28 128.91,471.31 129.20,471.35 129.49,471.38 129.78,471.42 130.07,471.45 130.37,471.49 130.66,471.53 130.95,471.56 131.24,471.60 131.53,471.63 131.82,471.67 132.11,471.70 132.40,471.74 132.69,471.77 132.99,471.81 133.28,471.84 133.57,471.88 133.86,471.91 134.15,471.95 134.44,471.99 134.73,472.02 135.02,472.06 135.31,472.10 135.60,472.13 135.90,472.17 136.19,472.21 136.48,472.25 136.77,472.28 137.06,472.32 137.35,472.36 137.64,472.40 137.93,472.43 138.22,472.47 138.51,472.51 138.81,472.55 139.10,472.59 139.39,472.62 139.68,472.66 139.97,472.70 140.26,472.74 140.55,472.78 140.84,472.81 141.13,472.85 141.42,472.89 141.72,472.93 142.01,472.97 142.30,473.00 142.59,473.04 142.88,473.08 143.17,473.11 143.46,473.15 143.75,473.19 144.04,473.23 144.33,473.26 144.62,473.30 144.92,473.33 145.21,473.37 145.50,473.41 145.79,473.44 146.08,473.48 146.37,473.51 146.66,473.55 146.95,473.58 147.24,473.61 147.53,473.65 147.83,473.68 148.12,473.71 148.41,473.75 148.70,473.78 148.99,473.81 149.28,473.84 149.57,473.87 149.86,473.90 150.15,473.94 150.44,473.97 150.74,474.00 151.03,474.03 151.32,474.06 151.61,474.09 151.90,474.12 152.19,474.15 152.48,474.18 152.77,474.21 153.06,474.24 153.35,474.27 153.65,474.30 153.94,474.33 154.23,474.36 154.52,474.39 154.81,474.42 155.10,474.44 155.39,474.47 155.68,474.50 155.97,474.53 156.27,474.56 156.56,474.59 156.85,474.61 157.14,474.64 157.43,474.67 157.72,474.70 158.01,474.72 158.30,474.75 158.59,474.78 158.88,474.80 159.18,474.83 159.47,474.85 159.76,474.88 160.05,474.90 160.34,474.93 160.63,474.95 160.92,474.98 161.21,475.00 161.50,475.02 161.79,475.05 162.09,475.07 162.38,475.09 162.67,475.11 162.96,475.13 163.25,475.15 163.54,475.17 163.83,475.19 164.12,475.21 164.41,475.23 164.70,475.25 165.00,475.27 165.29,475.29 165.58,475.31 165.87,475.33 166.16,475.34 166.45,475.36 166.74,475.38 167.03,475.39 167.32,475.41 167.61,475.43 167.91,475.44 168.20,475.46 168.49,475.48 168.78,475.49 169.07,475.51 169.36,475.52 169.65,475.54 169.94,475.55 170.23,475.57 170.52,475.58 170.81,475.60 171.11,475.61 171.40,475.63 171.69,475.64 171.98,475.66 172.27,475.67 172.56,475.69 172.85,475.70 173.14,475.71 173.43,475.73 173.72,475.74 174.02,475.75 174.31,475.77 174.60,475.78 174.89,475.79 175.18,475.81 175.47,475.82 175.76,475.83 176.05,475.85 176.34,475.86 176.63,475.87 176.93,475.89 177.22,475.90 177.51,475.91 177.80,475.92 178.09,475.94 178.38,475.95 178.67,475.96 178.96,475.97 179.25,475.99 179.55,476.00 179.84,476.01 180.13,476.02 180.42,476.04 180.71,476.05 181.00,476.06 181.29,476.07 181.58,476.09 181.87,476.10 182.16,476.11 182.46,476.12 182.75,476.14 183.04,476.15 183.33,476.16 183.62,476.17 183.91,476.19 184.20,476.20 184.49,476.21 184.78,476.23 185.07,476.24 185.37,476.25 185.66,476.26 185.95,476.28 186.24,476.29 186.53,476.30 186.82,476.32 187.11,476.33 187.40,476.35 187.69,476.36 187.98,476.38 188.28,476.39 188.57,476.41 188.86,476.43 189.15,476.44 189.44,476.46 189.73,476.48 190.02,476.49 190.31,476.51 190.60,476.53 190.89,476.55 191.19,476.56 191.48,476.58 191.77,476.60 192.06,476.61 192.35,476.63 192.64,476.64 192.93,476.66 193.22,476.68 193.51,476.69 193.80,476.70 194.09,476.72 194.39,476.73 194.68,476.74 194.97,476.75 195.26,476.77 195.55,476.78 195.84,476.79 196.13,476.79 196.42,476.80 196.71,476.81 197.01,476.82 197.30,476.82 197.59,476.82 197.88,476.83 198.17,476.83 198.46,476.83 198.75,476.82 199.04,476.79 199.33,476.74 199.62,476.67 199.92,476.59 200.21,476.38 200.50,475.64 200.79,474.42 201.08,472.76 201.37,470.75 201.66,468.43 201.95,465.87 202.24,463.14 202.53,460.30 202.83,457.41 203.12,454.54 203.41,451.75 203.70,449.11 203.99,446.67 204.28,444.50 204.57,442.51 204.86,440.57 205.15,438.66 205.44,436.78 205.74,434.92 206.03,433.08 206.32,431.25 206.61,429.39 206.90,427.49 207.19,425.61 207.48,423.80 207.77,422.13 208.06,420.65 208.35,419.30 208.65,418.02 208.94,416.86 209.23,415.88 209.52,415.11 209.81,414.42 210.10,413.81 210.39,413.38 210.68,413.19 210.97,413.07 211.26,412.99 211.56,412.96 211.85,413.12 212.14,413.53 212.43,414.10 212.72,414.74 213.01,415.35 213.30,415.96 213.59,416.63 213.88,417.36 214.17,418.13 214.47,418.91 214.76,419.71 215.05,420.48 215.34,421.23 215.63,421.94 215.92,422.64 216.21,423.33 216.50,424.02 216.79,424.70 217.08,425.38 217.38,426.06 217.67,426.72 217.96,427.38 218.25,428.03 218.54,428.67 218.83,429.30 219.12,429.91 219.41,430.52 219.70,431.11 219.99,431.70 220.28,432.28 220.58,432.84 220.87,433.40 221.16,433.96 221.45,434.50 221.74,435.04 222.03,435.57 222.32,436.09 222.61,436.61 222.90,437.13 223.20,437.64 223.49,438.14 223.78,438.64 224.07,439.14 224.36,439.63 224.65,440.12 224.94,440.61 225.23,441.09 225.52,441.57 225.81,442.05 226.11,442.52 226.40,442.99 226.69,443.45 226.98,443.91 227.27,444.36 227.56,444.81 227.85,445.26 228.14,445.70 228.43,446.13 228.72,446.56 229.02,446.98 229.31,447.40" fill="none" stroke="#9c9ca2" stroke-width="2.8" stroke-linejoin="round" />
<polyline points="57.32,483.72 57.62,483.71 57.91,483.71 58.20,483.70 58.49,483.69 58.78,483.69 59.07,483.68 59.36,483.67 59.65,483.66 59.94,483.66 60.23,483.65 60.53,483.64 60.82,483.63 61.11,483.62 61.40,483.61 61.69,483.60 61.98,483.59 62.27,483.58 62.56,483.57 62.85,483.56 63.14,483.55 63.44,483.54 63.73,483.53 64.02,483.52 64.31,483.51 64.60,483.49 64.89,483.48 65.18,483.47 65.47,483.46 65.76,483.45 66.06,483.44 66.35,483.43 66.64,483.41 66.93,483.40 67.22,483.40 67.51,483.39 67.80,483.38 68.09,483.37 68.38,483.36 68.67,483.35 68.97,483.34 69.26,483.33 69.55,483.31 69.84,483.30 70.13,483.29 70.42,483.28 70.71,483.26 71.00,483.25 71.29,483.23 71.58,483.21 71.88,483.20 72.17,483.18 72.46,483.16 72.75,483.13 73.04,483.11 73.33,483.08 73.62,483.06 73.91,483.03 74.20,482.99 74.49,482.96 74.78,482.92 75.08,482.84 75.37,482.66 75.66,482.40 75.95,482.07 76.24,481.69 76.53,481.27 76.82,480.82 77.11,480.36 77.40,479.90 77.69,479.45 77.99,479.03 78.28,478.65 78.57,478.31 78.86,477.99 79.15,477.67 79.44,477.34 79.73,477.02 80.02,476.69 80.31,476.37 80.61,476.06 80.90,475.75 81.19,475.44 81.48,475.14 81.77,474.85 82.06,474.57 82.35,474.30 82.64,474.04 82.93,473.79 83.22,473.55 83.52,473.33 83.81,473.12 84.10,472.92 84.39,472.73 84.68,472.55 84.97,472.37 85.26,472.20 85.55,472.03 85.84,471.87 86.13,471.72 86.42,471.57 86.72,471.42 87.01,471.28 87.30,471.14 87.59,471.01 87.88,470.88 88.17,470.75 88.46,470.63 88.75,470.51 89.04,470.39 89.34,470.27 89.63,470.15 89.92,470.02 90.21,469.90 90.50,469.77 90.79,469.65 91.08,469.52 91.37,469.40 91.66,469.28 91.95,469.16 92.25,469.04 92.54,468.92 92.83,468.81 93.12,468.70 93.41,468.60 93.70,468.50 93.99,468.41 94.28,468.33 94.57,468.25 94.86,468.18 95.16,468.11 95.45,468.06 95.74,468.01 96.03,467.98 96.32,467.95 96.61,467.93 96.90,467.93 97.19,467.93 97.48,467.93 97.77,467.93 98.06,467.94 98.36,467.94 98.65,467.95 98.94,467.96 99.23,467.97 99.52,467.98 99.81,467.99 100.10,468.00 100.39,468.01 100.68,468.03 100.97,468.04 101.27,468.06 101.56,468.07 101.85,468.09 102.14,468.11 102.43,468.12 102.72,468.14 103.01,468.16 103.30,468.18 103.59,468.20 103.88,468.22 104.18,468.24 104.47,468.26 104.76,468.29 105.05,468.31 105.34,468.33 105.63,468.35 105.92,468.37 106.21,468.40 106.50,468.43 106.80,468.46 107.09,468.50 107.38,468.54 107.67,468.58 107.96,468.62 108.25,468.67 108.54,468.72 108.83,468.77 109.12,468.82 109.41,468.88 109.70,468.94 110.00,469.00 110.29,469.06 110.58,469.12 110.87,469.18 111.16,469.25 111.45,469.32 111.74,469.39 112.03,469.46 112.32,469.53 112.62,469.60 112.91,469.67 113.20,469.74 113.49,469.82 113.78,469.89 114.07,469.97 114.36,470.04 114.65,470.12 114.94,470.19 115.23,470.27 115.53,470.34 115.82,470.42 116.11,470.49 116.40,470.56 116.69,470.64 116.98,470.71 117.27,470.78 117.56,470.85 117.85,470.92 118.14,470.99 118.44,471.06 118.73,471.13 119.02,471.19 119.31,471.26 119.60,471.32 119.89,471.38 120.18,471.44 120.47,471.49 120.76,471.55 121.05,471.60 121.34,471.66 121.64,471.71 121.93,471.76 122.22,471.82 122.51,471.87 122.80,471.92 123.09,471.97 123.38,472.03 123.67,472.08 123.96,472.13 124.25,472.18 124.55,472.23 124.84,472.29 125.13,472.34 125.42,472.39 125.71,472.44 126.00,472.49 126.29,472.54 126.58,472.59 126.87,472.64 127.16,472.69 127.46,472.74 127.75,472.78 128.04,472.83 128.33,472.88 128.62,472.93 128.91,472.98 129.20,473.02 129.49,473.07 129.78,473.12 130.07,473.17 130.37,473.21 130.66,473.26 130.95,473.30 131.24,473.35 131.53,473.40 131.82,473.44 132.11,473.49 132.40,473.53 132.69,473.57 132.99,473.62 133.28,473.66 133.57,473.70 133.86,473.75 134.15,473.79 134.44,473.83 134.73,473.87 135.02,473.91 135.31,473.96 135.60,474.00 135.90,474.04 136.19,474.08 136.48,474.12 136.77,474.16 137.06,474.20 137.35,474.24 137.64,474.28 137.93,474.33 138.22,474.37 138.51,474.41 138.81,474.45 139.10,474.49 139.39,474.53 139.68,474.57 139.97,474.60 140.26,474.64 140.55,474.68 140.84,474.72 141.13,474.76 141.42,474.80 141.72,474.84 142.01,474.87 142.30,474.91 142.59,474.95 142.88,474.99 143.17,475.02 143.46,475.06 143.75,475.10 144.04,475.13 144.33,475.17 144.62,475.20 144.92,475.24 145.21,475.27 145.50,475.30 145.79,475.34 146.08,475.37 146.37,475.40 146.66,475.44 146.95,475.47 147.24,475.50 147.53,475.53 147.83,475.56 148.12,475.59 148.41,475.62 148.70,475.65 148.99,475.68 149.28,475.71 149.57,475.73 149.86,475.76 150.15,475.79 150.44,475.81 150.74,475.84 151.03,475.87 151.32,475.89 151.61,475.92 151.90,475.94 152.19,475.97 152.48,475.99 152.77,476.02 153.06,476.04 153.35,476.07 153.65,476.09 153.94,476.11 154.23,476.14 154.52,476.16 154.81,476.18 155.10,476.21 155.39,476.23 155.68,476.25 155.97,476.27 156.27,476.29 156.56,476.32 156.85,476.34 157.14,476.36 157.43,476.38 157.72,476.40 158.01,476.42 158.30,476.44 158.59,476.46 158.88,476.48 159.18,476.50 159.47,476.52 159.76,476.54 160.05,476.56 160.34,476.58 160.63,476.60 160.92,476.62 161.21,476.64 161.50,476.65 161.79,476.67 162.09,476.69 162.38,476.71 162.67,476.72 162.96,476.74 163.25,476.76 163.54,476.78 163.83,476.79 164.12,476.81 164.41,476.82 164.70,476.84 165.00,476.86 165.29,476.87 165.58,476.89 165.87,476.90 166.16,476.92 166.45,476.93 166.74,476.95 167.03,476.96 167.32,476.98 167.61,476.99 167.91,477.01 168.20,477.02 168.49,477.03 168.78,477.05 169.07,477.06 169.36,477.08 169.65,477.09 169.94,477.10 170.23,477.12 170.52,477.13 170.81,477.14 171.11,477.16 171.40,477.17 171.69,477.18 171.98,477.19 172.27,477.21 172.56,477.22 172.85,477.23 173.14,477.24 173.43,477.26 173.72,477.27 174.02,477.28 174.31,477.29 174.60,477.30 174.89,477.32 175.18,477.33 175.47,477.34 175.76,477.35 176.05,477.36 176.34,477.37 176.63,477.39 176.93,477.40 177.22,477.41 177.51,477.42 177.80,477.43 178.09,477.44 178.38,477.45 178.67,477.47 178.96,477.48 179.25,477.49 179.55,477.50 179.84,477.51 180.13,477.52 180.42,477.54 180.71,477.55 181.00,477.56 181.29,477.57 181.58,477.58 181.87,477.59 182.16,477.61 182.46,477.62 182.75,477.63 183.04,477.64 183.33,477.65 183.62,477.66 183.91,477.68 184.20,477.69 184.49,477.70 184.78,477.71 185.07,477.73 185.37,477.74 185.66,477.75 185.95,477.76 186.24,477.78 186.53,477.79 186.82,477.80 187.11,477.82 187.40,477.83 187.69,477.84 187.98,477.86 188.28,477.88 188.57,477.89 188.86,477.91 189.15,477.92 189.44,477.94 189.73,477.96 190.02,477.97 190.31,477.99 190.60,478.01 190.89,478.03 191.19,478.04 191.48,478.06 191.77,478.08 192.06,478.09 192.35,478.11 192.64,478.13 192.93,478.14 193.22,478.16 193.51,478.17 193.80,478.19 194.09,478.20 194.39,478.21 194.68,478.23 194.97,478.24 195.26,478.25 195.55,478.26 195.84,478.27 196.13,478.28 196.42,478.29 196.71,478.29 197.01,478.30 197.30,478.30 197.59,478.31 197.88,478.31 198.17,478.31 198.46,478.31 198.75,478.31 199.04,478.29 199.33,478.26 199.62,478.22 199.92,478.17 200.21,478.04 200.50,477.61 200.79,476.89 201.08,475.95 201.37,474.83 201.66,473.59 201.95,472.26 202.24,470.91 202.53,469.58 202.83,468.33 203.12,467.19 203.41,466.23 203.70,465.37 203.99,464.51 204.28,463.66 204.57,462.83 204.86,462.03 205.15,461.26 205.44,460.52 205.74,459.83 206.03,459.20 206.32,458.63 206.61,458.12 206.90,457.63 207.19,457.15 207.48,456.68 207.77,456.23 208.06,455.81 208.35,455.41 208.65,455.04 208.94,454.70 209.23,454.40 209.52,454.15 209.81,453.94 210.10,453.77 210.39,453.64 210.68,453.52 210.97,453.40 211.26,453.29 211.56,453.19 211.85,453.11 212.14,453.05 212.43,453.00 212.72,452.98 213.01,452.99 213.30,453.02 213.59,453.08 213.88,453.16 214.17,453.25 214.47,453.36 214.76,453.49 215.05,453.62 215.34,453.76 215.63,453.90 215.92,454.04 216.21,454.19 216.50,454.37 216.79,454.58 217.08,454.80 217.38,455.05 217.67,455.30 217.96,455.56 218.25,455.83 218.54,456.11 218.83,456.38 219.12,456.64 219.41,456.90 219.70,457.14 219.99,457.37 220.28,457.60 220.58,457.83 220.87,458.06 221.16,458.29 221.45,458.51 221.74,458.74 222.03,458.96 222.32,459.18 222.61,459.40 222.90,459.63 223.20,459.85 223.49,460.06 223.78,460.28 224.07,460.50 224.36,460.72 224.65,460.93 224.94,461.14 225.23,461.36 225.52,461.57 225.81,461.78 226.11,461.99 226.40,462.20 226.69,462.41 226.98,462.62 227.27,462.82 227.56,463.03 227.85,463.23 228.14,463.44 228.43,463.64 228.72,463.84 229.02,464.04 229.31,464.24" fill="none" stroke="#0000ff" stroke-width="2.8" stroke-linejoin="round" />
<polyline points="57.32,481.07 57.62,481.06 57.91,481.05 58.20,481.04 58.49,481.03 58.78,481.02 59.07,481.01 59.36,481.00 59.65,480.99 59.94,480.98 60.23,480.97 60.53,480.96 60.82,480.95 61.11,480.94 61.40,480.94 61.69,480.93 61.98,480.92 62.27,480.91 62.56,480.90 62.85,480.89 63.14,480.88 63.44,480.87 63.73,480.86 64.02,480.85 64.31,480.84 64.60,480.83 64.89,480.83 65.18,480.82 65.47,480.81 65.76,480.80 66.06,480.79 66.35,480.78 66.64,480.78 66.93,480.77 67.22,480.76 67.51,480.76 67.80,480.75 68.09,480.75 68.38,480.74 68.67,480.74 68.97,480.73 69.26,480.73 69.55,480.72 69.84,480.72 70.13,480.71 70.42,480.71 70.71,480.70 71.00,480.70 71.29,480.69 71.58,480.68 71.88,480.67 72.17,480.66 72.46,480.65 72.75,480.64 73.04,480.63 73.33,480.62 73.62,480.61 73.91,480.59 74.20,480.58 74.49,480.56 74.78,480.54 75.08,480.45 75.37,480.24 75.66,479.93 75.95,479.53 76.24,479.07 76.53,478.55 76.82,478.01 77.11,477.45 77.40,476.90 77.69,476.38 77.99,475.90 78.28,475.48 78.57,475.13 78.86,474.81 79.15,474.50 79.44,474.19 79.73,473.89 80.02,473.60 80.31,473.32 80.61,473.04 80.90,472.77 81.19,472.51 81.48,472.25 81.77,472.00 82.06,471.76 82.35,471.53 82.64,471.30 82.93,471.08 83.22,470.87 83.52,470.67 83.81,470.47 84.10,470.28 84.39,470.09 84.68,469.91 84.97,469.73 85.26,469.55 85.55,469.37 85.84,469.21 86.13,469.04 86.42,468.88 86.72,468.73 87.01,468.59 87.30,468.45 87.59,468.31 87.88,468.19 88.17,468.07 88.46,467.96 88.75,467.85 89.04,467.76 89.34,467.66 89.63,467.56 89.92,467.47 90.21,467.37 90.50,467.27 90.79,467.18 91.08,467.09 91.37,467.00 91.66,466.91 91.95,466.82 92.25,466.73 92.54,466.65 92.83,466.57 93.12,466.50 93.41,466.43 93.70,466.36 93.99,466.30 94.28,466.24 94.57,466.18 94.86,466.13 95.16,466.09 95.45,466.05 95.74,466.02 96.03,466.00 96.32,465.98 96.61,465.97 96.90,465.96 97.19,465.97 97.48,465.97 97.77,465.97 98.06,465.97 98.36,465.97 98.65,465.98 98.94,465.98 99.23,465.99 99.52,466.00 99.81,466.00 100.10,466.01 100.39,466.02 100.68,466.03 100.97,466.03 101.27,466.04 101.56,466.05 101.85,466.06 102.14,466.07 102.43,466.09 102.72,466.10 103.01,466.11 103.30,466.12 103.59,466.13 103.88,466.15 104.18,466.16 104.47,466.17 104.76,466.19 105.05,466.20 105.34,466.22 105.63,466.23 105.92,466.25 106.21,466.27 106.50,466.29 106.80,466.32 107.09,466.35 107.38,466.38 107.67,466.41 107.96,466.45 108.25,466.49 108.54,466.54 108.83,466.58 109.12,466.63 109.41,466.68 109.70,466.74 110.00,466.79 110.29,466.85 110.58,466.91 110.87,466.97 111.16,467.03 111.45,467.10 111.74,467.16 112.03,467.23 112.32,467.29 112.62,467.36 112.91,467.43 113.20,467.50 113.49,467.57 113.78,467.64 114.07,467.71 114.36,467.78 114.65,467.85 114.94,467.93 115.23,468.00 115.53,468.07 115.82,468.14 116.11,468.21 116.40,468.28 116.69,468.35 116.98,468.41 117.27,468.48 117.56,468.55 117.85,468.61 118.14,468.67 118.44,468.73 118.73,468.79 119.02,468.85 119.31,468.91 119.60,468.96 119.89,469.02 120.18,469.07 120.47,469.11 120.76,469.16 121.05,469.20 121.34,469.25 121.64,469.29 121.93,469.34 122.22,469.38 122.51,469.42 122.80,469.46 123.09,469.50 123.38,469.54 123.67,469.58 123.96,469.62 124.25,469.66 124.55,469.70 124.84,469.74 125.13,469.78 125.42,469.82 125.71,469.85 126.00,469.89 126.29,469.93 126.58,469.97 126.87,470.00 127.16,470.04 127.46,470.08 127.75,470.11 128.04,470.15 128.33,470.18 128.62,470.22 128.91,470.25 129.20,470.29 129.49,470.32 129.78,470.36 130.07,470.39 130.37,470.43 130.66,470.47 130.95,470.50 131.24,470.54 131.53,470.57 131.82,470.61 132.11,470.64 132.40,470.68 132.69,470.71 132.99,470.75 133.28,470.78 133.57,470.82 133.86,470.85 134.15,470.89 134.44,470.93 134.73,470.96 135.02,471.00 135.31,471.04 135.60,471.07 135.90,471.11 136.19,471.15 136.48,471.19 136.77,471.22 137.06,471.26 137.35,471.30 137.64,471.34 137.93,471.37 138.22,471.41 138.51,471.45 138.81,471.49 139.10,471.53 139.39,471.56 139.68,471.60 139.97,471.64 140.26,471.68 140.55,471.72 140.84,471.75 141.13,471.79 141.42,471.83 141.72,471.87 142.01,471.91 142.30,471.94 142.59,471.98 142.88,472.02 143.17,472.05 143.46,472.09 143.75,472.13 144.04,472.17 144.33,472.20 144.62,472.24 144.92,472.27 145.21,472.31 145.50,472.35 145.79,472.38 146.08,472.42 146.37,472.45 146.66,472.49 146.95,472.52 147.24,472.55 147.53,472.59 147.83,472.62 148.12,472.65 148.41,472.69 148.70,472.72 148.99,472.75 149.28,472.78 149.57,472.81 149.86,472.84 150.15,472.88 150.44,472.91 150.74,472.94 151.03,472.97 151.32,473.00 151.61,473.03 151.90,473.06 152.19,473.09 152.48,473.12 152.77,473.15 153.06,473.18 153.35,473.21 153.65,473.24 153.94,473.27 154.23,473.30 154.52,473.33 154.81,473.36 155.10,473.39 155.39,473.42 155.68,473.45 155.97,473.48 156.27,473.50 156.56,473.53 156.85,473.56 157.14,473.59 157.43,473.62 157.72,473.64 158.01,473.67 158.30,473.70 158.59,473.73 158.88,473.75 159.18,473.78 159.47,473.80 159.76,473.83 160.05,473.85 160.34,473.88 160.63,473.90 160.92,473.93 161.21,473.95 161.50,473.97 161.79,473.99 162.09,474.02 162.38,474.04 162.67,474.06 162.96,474.08 163.25,474.10 163.54,474.12 163.83,474.14 164.12,474.16 164.41,474.17 164.70,474.19 165.00,474.21 165.29,474.23 165.58,474.24 165.87,474.26 166.16,474.28 166.45,474.29 166.74,474.31 167.03,474.32 167.32,474.34 167.61,474.35 167.91,474.37 168.20,474.38 168.49,474.40 168.78,474.41 169.07,474.43 169.36,474.44 169.65,474.46 169.94,474.47 170.23,474.48 170.52,474.50 170.81,474.51 171.11,474.52 171.40,474.54 171.69,474.55 171.98,474.56 172.27,474.58 172.56,474.59 172.85,474.60 173.14,474.61 173.43,474.63 173.72,474.64 174.02,474.65 174.31,474.66 174.60,474.67 174.89,474.69 175.18,474.70 175.47,474.71 175.76,474.72 176.05,474.73 176.34,474.74 176.63,474.75 176.93,474.77 177.22,474.78 177.51,474.79 177.80,474.80 178.09,474.81 178.38,474.82 178.67,474.83 178.96,474.84 179.25,474.86 179.55,474.87 179.84,474.88 180.13,474.89 180.42,474.90 180.71,474.91 181.00,474.92 181.29,474.93 181.58,474.94 181.87,474.95 182.16,474.97 182.46,474.98 182.75,474.99 183.04,475.00 183.33,475.01 183.62,475.02 183.91,475.03 184.20,475.04 184.49,475.06 184.78,475.07 185.07,475.08 185.37,475.09 185.66,475.10 185.95,475.11 186.24,475.13 186.53,475.14 186.82,475.15 187.11,475.16 187.40,475.18 187.69,475.19 187.98,475.20 188.28,475.22 188.57,475.23 188.86,475.25 189.15,475.26 189.44,475.28 189.73,475.29 190.02,475.31 190.31,475.32 190.60,475.34 190.89,475.36 191.19,475.37 191.48,475.39 191.77,475.40 192.06,475.42 192.35,475.43 192.64,475.44 192.93,475.46 193.22,475.47 193.51,475.48 193.80,475.50 194.09,475.51 194.39,475.52 194.68,475.53 194.97,475.54 195.26,475.55 195.55,475.56 195.84,475.57 196.13,475.58 196.42,475.59 196.71,475.59 197.01,475.60 197.30,475.60 197.59,475.61 197.88,475.61 198.17,475.61 198.46,475.61 198.75,475.61 199.04,475.59 199.33,475.57 199.62,475.55 199.92,475.52 200.21,475.34 200.50,474.58 200.79,473.28 201.08,471.50 201.37,469.31 201.66,466.78 201.95,463.98 202.24,460.99 202.53,457.86 202.83,454.67 203.12,451.50 203.41,448.40 203.70,445.44 203.99,442.71 204.28,440.26 204.57,437.99 204.86,435.74 205.15,433.52 205.44,431.33 205.74,429.16 206.03,427.01 206.32,424.89 206.61,422.74 206.90,420.54 207.19,418.36 207.48,416.29 207.77,414.37 208.06,412.70 208.35,411.20 208.65,409.80 208.94,408.53 209.23,407.46 209.52,406.60 209.81,405.82 210.10,405.14 210.39,404.65 210.68,404.44 210.97,404.33 211.26,404.25 211.56,404.22 211.85,404.39 212.14,404.85 212.43,405.48 212.72,406.18 213.01,406.87 213.30,407.56 213.59,408.35 213.88,409.20 214.17,410.10 214.47,411.03 214.76,411.96 215.05,412.87 215.34,413.74 215.63,414.55 215.92,415.34 216.21,416.11 216.50,416.88 216.79,417.63 217.08,418.38 217.38,419.11 217.67,419.84 217.96,420.57 218.25,421.28 218.54,422.00 218.83,422.71 219.12,423.42 219.41,424.12 219.70,424.83 219.99,425.53 220.28,426.23 220.58,426.93 220.87,427.62 221.16,428.30 221.45,428.98 221.74,429.66 222.03,430.34 222.32,431.01 222.61,431.67 222.90,432.33 223.20,432.98 223.49,433.63 223.78,434.28 224.07,434.93 224.36,435.57 224.65,436.20 224.94,436.84 225.23,437.47 225.52,438.10 225.81,438.73 226.11,439.35 226.40,439.97 226.69,440.59 226.98,441.20 227.27,441.81 227.56,442.42 227.85,443.02 228.14,443.62 228.43,444.21 228.72,444.80 229.02,445.39 229.31,445.97" fill="none" stroke="#000" stroke-width="2.0" stroke-linejoin="round" />
<line x1="63.7" y1="381.2" x2="63.7" y2="497.2" stroke="#000" stroke-width="2.1" stroke-dasharray="6 4.8"/>
<line x1="73.6" y1="381.2" x2="73.6" y2="497.2" stroke="#000" stroke-width="2.1" stroke-dasharray="6 4.8"/>
<line x1="198.8" y1="381.2" x2="198.8" y2="497.2" stroke="#000" stroke-width="2.6" stroke-dasharray="6 4.8"/>
<line x1="28.2" y1="555.3" x2="51.3" y2="555.3" stroke="#000" stroke-width="2.2" />
<text x="64.6" y="560.8" font-size="15" text-anchor="start" fill="#000" font-family='"Liberation Serif", serif' >Mock</text>
<line x1="111.4" y1="555.3" x2="134.4" y2="555.3" stroke="#9c9ca2" stroke-width="2.2" />
<text x="147.3" y="560.8" font-size="15" text-anchor="start" fill="#000" font-family='"Liberation Serif", serif' >Scrambled siRNA</text>
<line x1="28.2" y1="576.4" x2="51.3" y2="576.4" stroke="#0000ff" stroke-width="2.2" />
<text x="64.6" y="581.6" font-size="15" text-anchor="start" fill="#000" font-family='"Liberation Serif", serif' >STIM1 siRNA</text>
<text x="281" y="311.8" font-size="16.5" text-anchor="start" font-weight="bold" fill="#000" font-family='"Liberation Serif", serif' >D</text>
<line x1="335.2" y1="353.69000000000005" x2="335.2" y2="499.6" stroke="#000" stroke-width="2.0" />
<line x1="329.2" y1="498.6" x2="465.5" y2="498.6" stroke="#000" stroke-width="2.0" />
<line x1="329.2" y1="498.6" x2="335.2" y2="498.6" stroke="#000" stroke-width="2.0" />
<text x="326.3" y="503.5" font-size="14" text-anchor="end" fill="#000" font-family='"Liberation Serif", serif' >0.0</text>
<line x1="329.2" y1="482.61" x2="335.2" y2="482.61" stroke="#000" stroke-width="2.0" />
<text x="326.3" y="487.51" font-size="14" text-anchor="end" fill="#000" font-family='"Liberation Serif", serif' >0.2</text>
<line x1="329.2" y1="466.62" x2="335.2" y2="466.62" stroke="#000" stroke-width="2.0" />
<text x="326.3" y="471.52" font-size="14" text-anchor="end" fill="#000" font-family='"Liberation Serif", serif' >0.4</text>
<line x1="329.2" y1="450.63" x2="335.2" y2="450.63" stroke="#000" stroke-width="2.0" />
<text x="326.3" y="455.53" font-size="14" text-anchor="end" fill="#000" font-family='"Liberation Serif", serif' >0.6</text>
<line x1="329.2" y1="434.64" x2="335.2" y2="434.64" stroke="#000" stroke-width="2.0" />
<text x="326.3" y="439.54" font-size="14" text-anchor="end" fill="#000" font-family='"Liberation Serif", serif' >0.8</text>
<line x1="329.2" y1="418.65" x2="335.2" y2="418.65" stroke="#000" stroke-width="2.0" />
<text x="326.3" y="423.55" font-size="14" text-anchor="end" fill="#000" font-family='"Liberation Serif", serif' >1.0</text>
<line x1="329.2" y1="402.66" x2="335.2" y2="402.66" stroke="#000" stroke-width="2.0" />
<text x="326.3" y="407.56" font-size="14" text-anchor="end" fill="#000" font-family='"Liberation Serif", serif' >1.2</text>
<line x1="329.2" y1="386.67" x2="335.2" y2="386.67" stroke="#000" stroke-width="2.0" />
<text x="326.3" y="391.57" font-size="14" text-anchor="end" fill="#000" font-family='"Liberation Serif", serif' >1.4</text>
<line x1="329.2" y1="370.68" x2="335.2" y2="370.68" stroke="#000" stroke-width="2.0" />
<text x="326.3" y="375.58" font-size="14" text-anchor="end" fill="#000" font-family='"Liberation Serif", serif' >1.6</text>
<line x1="329.2" y1="354.69" x2="335.2" y2="354.69" stroke="#000" stroke-width="2.0" />
<text x="326.3" y="359.59" font-size="14" text-anchor="end" fill="#000" font-family='"Liberation Serif", serif' >1.8</text>
<line x1="356.8" y1="498.6" x2="356.8" y2="504.6" stroke="#000" stroke-width="2.0" />
<line x1="399.8" y1="498.6" x2="399.8" y2="504.6" stroke="#000" stroke-width="2.0" />
<line x1="443.0" y1="498.6" x2="443.0" y2="504.6" stroke="#000" stroke-width="2.0" />
<text x="360.5" y="519.9" font-size="15" text-anchor="end" fill="#000" font-family='"Liberation Serif", serif' transform="rotate(-45 360.5 519.9)" >Mock</text>
<text x="406.1" y="517.3" font-size="15" text-anchor="end" fill="#000" font-family='"Liberation Serif", serif' transform="rotate(-45 406.1 517.3)" >Scrambled siRNA</text>
<text x="449.3" y="517.3" font-size="15" text-anchor="end" fill="#000" font-family='"Liberation Serif", serif' transform="rotate(-45 449.3 517.3)" >STIM1 siRNA</text>
<text transform="translate(293.9 522.3) rotate(-90)" font-size="16.1" font-family='"Liberation Serif", serif'>Peak amplitude (Δ F<tspan font-size="13" dy="4.5">340</tspan><tspan dy="-4.5">/F</tspan><tspan font-size="13" dy="4.5">380</tspan><tspan dy="-4.5">)</tspan></text>
<circle cx="351.4" cy="380.4" r="3.4" fill="#000"/>
<circle cx="361.9" cy="380.8" r="3.4" fill="#000"/>
<circle cx="356.8" cy="414.7" r="3.4" fill="#000"/>
<line x1="342.8" y1="392.1" x2="370.8" y2="392.1" stroke="#000" stroke-width="2.0" />
<line x1="356.8" y1="381.4" x2="356.8" y2="403.0" stroke="#000" stroke-width="2.0" />
<line x1="349.5" y1="381.4" x2="364.1" y2="381.4" stroke="#000" stroke-width="2.0" />
<line x1="349.5" y1="403.0" x2="364.1" y2="403.0" stroke="#000" stroke-width="2.0" />
<circle cx="399.8" cy="371.9" r="3.4" fill="#9c9ca2"/>
<circle cx="399.8" cy="409.2" r="3.4" fill="#9c9ca2"/>
<circle cx="399.8" cy="425.4" r="3.4" fill="#9c9ca2"/>
<line x1="385.7" y1="402.0" x2="413.90000000000003" y2="402.0" stroke="#000" stroke-width="2.0" />
<line x1="399.8" y1="386.8" x2="399.8" y2="417.9" stroke="#000" stroke-width="2.0" />
<line x1="393.1" y1="386.8" x2="406.5" y2="386.8" stroke="#000" stroke-width="2.0" />
<line x1="393.1" y1="417.9" x2="406.5" y2="417.9" stroke="#000" stroke-width="2.0" />
<circle cx="433.1" cy="455.4" r="3.4" fill="#0000ff"/>
<circle cx="442.6" cy="466.2" r="3.4" fill="#0000ff"/>
<circle cx="452.3" cy="461.2" r="3.4" fill="#0000ff"/>
<line x1="428.7" y1="460.7" x2="456.90000000000003" y2="460.7" stroke="#000" stroke-width="2.0" />
<line x1="442.8" y1="457.8" x2="442.8" y2="464.0" stroke="#000" stroke-width="2.0" />
<line x1="436.0" y1="457.8" x2="449.6" y2="457.8" stroke="#000" stroke-width="2.0" />
<line x1="436.0" y1="464.0" x2="449.6" y2="464.0" stroke="#000" stroke-width="2.0" />
<path d="M356.6 342.4 V332.8 H442.6 V342.4" fill="none" stroke="#000" stroke-width="2.0" stroke-linejoin="miter"/>
<path d="M399.6 364.4 V354.8 H442.6 V364.4" fill="none" stroke="#000" stroke-width="2.0" stroke-linejoin="miter"/>
<path d="M399.2 322.00V328.00M397.04 323.44L401.36 326.56M397.04 326.56L401.36 323.44" stroke="#333" stroke-width="1.0" stroke-linecap="round" fill="none"/>
<circle cx="399.2" cy="325.0" r="1.1" fill="#555"/>
<path d="M420.7 343.90V349.90M418.54 345.34L422.86 348.46M418.54 348.46L422.86 345.34" stroke="#333" stroke-width="1.0" stroke-linecap="round" fill="none"/>
<circle cx="420.7" cy="346.9" r="1.1" fill="#555"/>
<text x="495" y="311.8" font-size="16.5" text-anchor="start" font-weight="bold" fill="#000" font-family='"Liberation Serif", serif' >E</text>
<line x1="553.4" y1="350.9" x2="553.4" y2="495.7" stroke="#000" stroke-width="2.0" />
<line x1="547.4" y1="494.7" x2="684.5" y2="494.7" stroke="#000" stroke-width="2.0" />
<line x1="547.4" y1="494.7" x2="553.4" y2="494.7" stroke="#000" stroke-width="2.0" />
<text x="544.8" y="499.6" font-size="14" text-anchor="end" fill="#000" font-family='"Liberation Serif", serif' >0</text>
<line x1="550.0" y1="490.62" x2="553.4" y2="490.62" stroke="#000" stroke-width="1.5" />
<line x1="550.0" y1="486.54" x2="553.4" y2="486.54" stroke="#000" stroke-width="1.5" />
<line x1="550.0" y1="482.46" x2="553.4" y2="482.46" stroke="#000" stroke-width="1.5" />
<line x1="550.0" y1="478.38" x2="553.4" y2="478.38" stroke="#000" stroke-width="1.5" />
<line x1="547.4" y1="474.3" x2="553.4" y2="474.3" stroke="#000" stroke-width="2.0" />
<text x="544.8" y="479.2" font-size="14" text-anchor="end" fill="#000" font-family='"Liberation Serif", serif' >50</text>
<line x1="550.0" y1="470.22" x2="553.4" y2="470.22" stroke="#000" stroke-width="1.5" />
<line x1="550.0" y1="466.14" x2="553.4" y2="466.14" stroke="#000" stroke-width="1.5" />
<line x1="550.0" y1="462.06" x2="553.4" y2="462.06" stroke="#000" stroke-width="1.5" />
<line x1="550.0" y1="457.98" x2="553.4" y2="457.98" stroke="#000" stroke-width="1.5" />
<line x1="547.4" y1="453.9" x2="553.4" y2="453.9" stroke="#000" stroke-width="2.0" />
<text x="544.8" y="458.8" font-size="14" text-anchor="end" fill="#000" font-family='"Liberation Serif", serif' >100</text>
<line x1="550.0" y1="449.82" x2="553.4" y2="449.82" stroke="#000" stroke-width="1.5" />
<line x1="550.0" y1="445.74" x2="553.4" y2="445.74" stroke="#000" stroke-width="1.5" />
<line x1="550.0" y1="441.66" x2="553.4" y2="441.66" stroke="#000" stroke-width="1.5" />
<line x1="550.0" y1="437.58" x2="553.4" y2="437.58" stroke="#000" stroke-width="1.5" />
<line x1="547.4" y1="433.5" x2="553.4" y2="433.5" stroke="#000" stroke-width="2.0" />
<text x="544.8" y="438.4" font-size="14" text-anchor="end" fill="#000" font-family='"Liberation Serif", serif' >150</text>
<line x1="550.0" y1="429.42" x2="553.4" y2="429.42" stroke="#000" stroke-width="1.5" />
<line x1="550.0" y1="425.34" x2="553.4" y2="425.34" stroke="#000" stroke-width="1.5" />
<line x1="550.0" y1="421.26" x2="553.4" y2="421.26" stroke="#000" stroke-width="1.5" />
<line x1="550.0" y1="417.18" x2="553.4" y2="417.18" stroke="#000" stroke-width="1.5" />
<line x1="547.4" y1="413.1" x2="553.4" y2="413.1" stroke="#000" stroke-width="2.0" />
<text x="544.8" y="418.0" font-size="14" text-anchor="end" fill="#000" font-family='"Liberation Serif", serif' >200</text>
<line x1="550.0" y1="409.02" x2="553.4" y2="409.02" stroke="#000" stroke-width="1.5" />
<line x1="550.0" y1="404.94" x2="553.4" y2="404.94" stroke="#000" stroke-width="1.5" />
<line x1="550.0" y1="400.86" x2="553.4" y2="400.86" stroke="#000" stroke-width="1.5" />
<line x1="550.0" y1="396.78" x2="553.4" y2="396.78" stroke="#000" stroke-width="1.5" />
<line x1="547.4" y1="392.7" x2="553.4" y2="392.7" stroke="#000" stroke-width="2.0" />
<text x="544.8" y="397.6" font-size="14" text-anchor="end" fill="#000" font-family='"Liberation Serif", serif' >250</text>
<line x1="550.0" y1="388.62" x2="553.4" y2="388.62" stroke="#000" stroke-width="1.5" />
<line x1="550.0" y1="384.54" x2="553.4" y2="384.54" stroke="#000" stroke-width="1.5" />
<line x1="550.0" y1="380.46" x2="553.4" y2="380.46" stroke="#000" stroke-width="1.5" />
<line x1="550.0" y1="376.38" x2="553.4" y2="376.38" stroke="#000" stroke-width="1.5" />
<line x1="547.4" y1="372.3" x2="553.4" y2="372.3" stroke="#000" stroke-width="2.0" />
<text x="544.8" y="377.2" font-size="14" text-anchor="end" fill="#000" font-family='"Liberation Serif", serif' >300</text>
<line x1="550.0" y1="368.22" x2="553.4" y2="368.22" stroke="#000" stroke-width="1.5" />
<line x1="550.0" y1="364.14" x2="553.4" y2="364.14" stroke="#000" stroke-width="1.5" />
<line x1="550.0" y1="360.06" x2="553.4" y2="360.06" stroke="#000" stroke-width="1.5" />
<line x1="550.0" y1="355.98" x2="553.4" y2="355.98" stroke="#000" stroke-width="1.5" />
<line x1="547.4" y1="351.9" x2="553.4" y2="351.9" stroke="#000" stroke-width="2.0" />
<text x="544.8" y="356.8" font-size="14" text-anchor="end" fill="#000" font-family='"Liberation Serif", serif' >350</text>
<line x1="574.9" y1="494.7" x2="574.9" y2="500.9" stroke="#000" stroke-width="2.0" />
<line x1="617.9" y1="494.7" x2="617.9" y2="500.9" stroke="#000" stroke-width="2.0" />
<line x1="661.1" y1="494.7" x2="661.1" y2="500.9" stroke="#000" stroke-width="2.0" />
<text x="578.6" y="516.0" font-size="15" text-anchor="end" fill="#000" font-family='"Liberation Serif", serif' transform="rotate(-45 578.6 516.0)" >Mock</text>
<text x="624.2" y="513.4" font-size="15" text-anchor="end" fill="#000" font-family='"Liberation Serif", serif' transform="rotate(-45 624.2 513.4)" >Scrambled siRNA</text>
<text x="667.4" y="513.4" font-size="15" text-anchor="end" fill="#000" font-family='"Liberation Serif", serif' transform="rotate(-45 667.4 513.4)" >STIM1 siRNA</text>
<text transform="translate(509.3 498.6) rotate(-90)" font-size="16.3" font-family='"Liberation Serif", serif'>AUC (F<tspan font-size="13" dy="4.5">340</tspan><tspan dy="-4.5">/F</tspan><tspan font-size="13" dy="4.5">380</tspan><tspan dy="-4.5" dx="-1"> *</tspan><tspan font-size="17" dx="2.7"> sec)</tspan></text>
<circle cx="570" cy="382" r="3.4" fill="#000"/>
<circle cx="579.8" cy="390.8" r="3.4" fill="#000"/>
<circle cx="574.9" cy="437.3" r="3.4" fill="#000"/>
<line x1="560.9" y1="403.2" x2="588.9" y2="403.2" stroke="#000" stroke-width="2.0" />
<line x1="574.9" y1="386.1" x2="574.9" y2="420.5" stroke="#000" stroke-width="2.0" />
<line x1="568.3" y1="386.1" x2="581.5" y2="386.1" stroke="#000" stroke-width="2.0" />
<line x1="568.3" y1="420.5" x2="581.5" y2="420.5" stroke="#000" stroke-width="2.0" />
<circle cx="618" cy="365.1" r="3.3" fill="#9c9ca2"/>
<circle cx="618" cy="408.2" r="3.3" fill="#9c9ca2"/>
<circle cx="618" cy="430.2" r="3.3" fill="#9c9ca2"/>
<line x1="604" y1="401.1" x2="632" y2="401.1" stroke="#000" stroke-width="2.0" />
<line x1="618" y1="382.1" x2="618" y2="420.3" stroke="#000" stroke-width="2.0" />
<line x1="611" y1="382.1" x2="625" y2="382.1" stroke="#000" stroke-width="2.0" />
<line x1="611" y1="420.3" x2="625" y2="420.3" stroke="#000" stroke-width="2.0" />
<circle cx="661.1" cy="382.8" r="3.3" fill="#0000ff"/>
<circle cx="661.1" cy="399.6" r="3.3" fill="#0000ff"/>
<circle cx="661.1" cy="419.9" r="3.3" fill="#0000ff"/>
<line x1="647.2" y1="401.0" x2="675.0" y2="401.0" stroke="#000" stroke-width="2.0" />
<line x1="661.1" y1="390.1" x2="661.1" y2="411.6" stroke="#000" stroke-width="2.0" />
<line x1="654.1" y1="390.1" x2="668.1" y2="390.1" stroke="#000" stroke-width="2.0" />
<line x1="654.1" y1="411.6" x2="668.1" y2="411.6" stroke="#000" stroke-width="2.0" />
<path d="M574.6 333.0 V323.3 H661.4 V333.0" fill="none" stroke="#000" stroke-width="2.0" stroke-linejoin="miter"/>
<path d="M617.0 356.2 V346.4 H661.2 V356.2" fill="none" stroke="#000" stroke-width="2.0" stroke-linejoin="miter"/>
<text x="618.2" y="320.3" font-size="15.5" text-anchor="middle" fill="#000" font-family='"Liberation Serif", serif' >ns</text>
<text x="639.0" y="343.2" font-size="15.5" text-anchor="middle" fill="#000" font-family='"Liberation Serif", serif' >ns</text>
</svg>
</body></html>
